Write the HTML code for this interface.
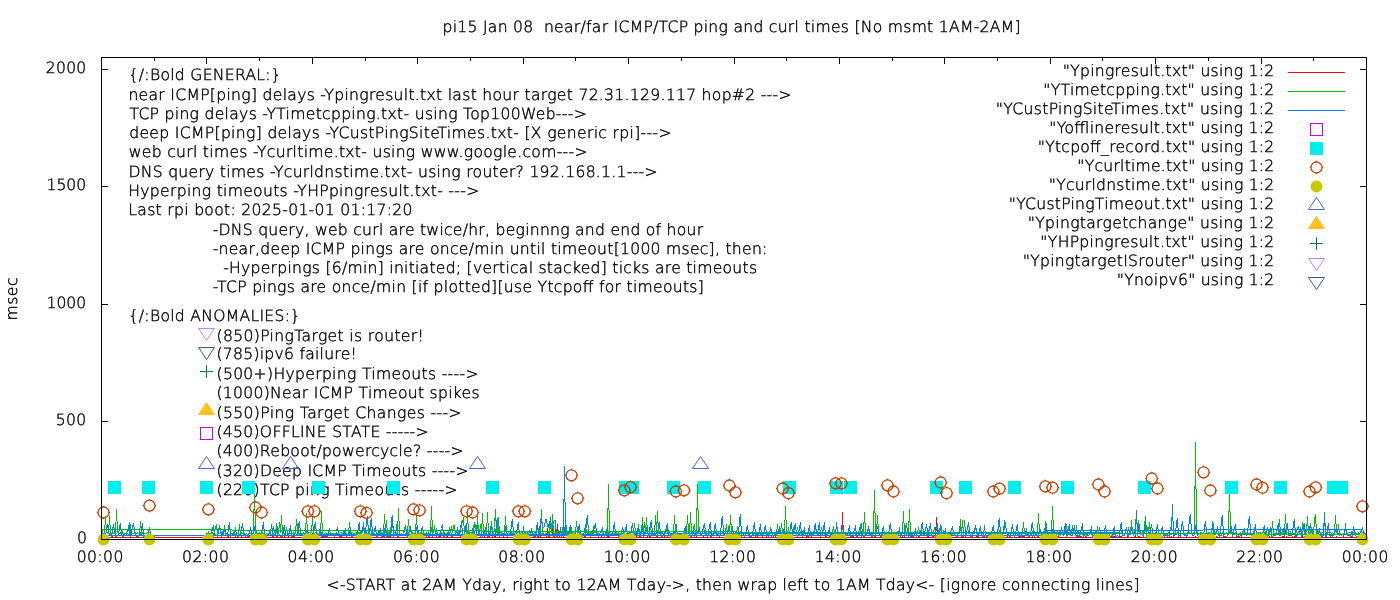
<!DOCTYPE html>
<html lang="en"><head><meta charset="utf-8"><title>pi15 Jan 08 near/far ICMP/TCP ping and curl times</title>
<style>html,body{margin:0;padding:0;background:#fff}body{width:1400px;height:600px;overflow:hidden}svg{display:block}</style>
</head><body>
<svg width="1400" height="600" viewBox="0 0 1400 600" font-family="'DejaVu Sans','Liberation Sans',sans-serif" font-size="15.6" font-weight="200" fill="#000" stroke="none" shape-rendering="crispEdges" text-rendering="geometricPrecision">
<style>text{stroke:#000;stroke-width:0.4px;white-space:pre}</style>
<text x="128.61" y="79.90" textLength="152.19" lengthAdjust="spacing">{/:Bold GENERAL:}</text>
<text x="128.40" y="99.70" textLength="663.15" lengthAdjust="spacing">near ICMP[ping] delays -Ypingresult.txt last hour target 72.31.129.117 hop#2 ---&gt;</text>
<text x="129.46" y="118.50" textLength="457.30" lengthAdjust="spacing">TCP ping delays -YTimetcpping.txt- using Top100Web---&gt;</text>
<text x="129.16" y="137.60" textLength="542.39" lengthAdjust="spacing">deep ICMP[ping] delays -YCustPingSiteTimes.txt- [X generic rpi]---&gt;</text>
<text x="128.81" y="157.00" textLength="458.74" lengthAdjust="spacing">web curl times -Ycurltime.txt- using www.google.com---&gt;</text>
<text x="128.50" y="176.60" textLength="529.05" lengthAdjust="spacing">DNS query times -Ycurldnstime.txt- using router? 192.168.1.1---&gt;</text>
<text x="128.30" y="195.70" textLength="350.95" lengthAdjust="spacing">Hyperping timeouts -YHPpingresult.txt- ---&gt;</text>
<text x="128.30" y="214.75" textLength="284.15" lengthAdjust="spacing">Last rpi boot: 2025-01-01 01:17:20</text>
<text x="212.64" y="235.00" textLength="490.48" lengthAdjust="spacing">-DNS query, web curl are twice/hr, beginnng and end of hour</text>
<text x="212.64" y="253.75" textLength="554.70" lengthAdjust="spacing">-near,deep ICMP pings are once/min until timeout[1000 msec], then:</text>
<text x="212.72" y="272.75" textLength="544.30" lengthAdjust="spacing">  -Hyperpings [6/min] initiated; [vertical stacked] ticks are timeouts</text>
<text x="212.64" y="291.70" textLength="491.18" lengthAdjust="spacing">-TCP pings are once/min [if plotted][use Ytcpoff for timeouts]</text>
<text x="128.61" y="321.00" textLength="171.49" lengthAdjust="spacing">{/:Bold ANOMALIES:}</text>
<text x="216.49" y="340.50" textLength="207.36" lengthAdjust="spacing">(850)PingTarget is router!</text>
<text x="216.49" y="359.40" textLength="140.36" lengthAdjust="spacing">(785)ipv6 failure!</text>
<text x="216.49" y="378.50" textLength="262.06" lengthAdjust="spacing">(500+)Hyperping Timeouts ----&gt;</text>
<text x="216.49" y="397.50" textLength="263.13" lengthAdjust="spacing">(1000)Near ICMP Timeout spikes</text>
<text x="216.49" y="418.00" textLength="245.16" lengthAdjust="spacing">(550)Ping Target Changes ---&gt;</text>
<text x="216.49" y="436.90" textLength="212.06" lengthAdjust="spacing">(450)OFFLINE STATE -----&gt;</text>
<text x="216.49" y="455.90" textLength="247.06" lengthAdjust="spacing">(400)Reboot/powercycle? ----&gt;</text>
<text x="216.49" y="475.70" textLength="252.06" lengthAdjust="spacing">(320)Deep ICMP Timeouts ----&gt;</text>
<text x="216.49" y="494.70" textLength="241.06" lengthAdjust="spacing">(220)TCP ping Timeouts -----&gt;</text>
<path d="M101.5 539.5h6.5M1366.5 539.5h-6.5M101.5 421.5h6.5M1366.5 421.5h-6.5M101.5 304.5h6.5M1366.5 304.5h-6.5M101.5 186.5h6.5M1366.5 186.5h-6.5M101.5 69.5h6.5M1366.5 69.5h-6.5M101.5 539.5v-6.5M101.5 57.5v6.5M154.5 539.5v-3.5M154.5 57.5v3.5M206.5 539.5v-6.5M206.5 57.5v6.5M259.5 539.5v-3.5M259.5 57.5v3.5M312.5 539.5v-6.5M312.5 57.5v6.5M365.5 539.5v-3.5M365.5 57.5v3.5M417.5 539.5v-6.5M417.5 57.5v6.5M470.5 539.5v-3.5M470.5 57.5v3.5M523.5 539.5v-6.5M523.5 57.5v6.5M575.5 539.5v-3.5M575.5 57.5v3.5M628.5 539.5v-6.5M628.5 57.5v6.5M681.5 539.5v-3.5M681.5 57.5v3.5M734.5 539.5v-6.5M734.5 57.5v6.5M786.5 539.5v-3.5M786.5 57.5v3.5M839.5 539.5v-6.5M839.5 57.5v6.5M892.5 539.5v-3.5M892.5 57.5v3.5M944.5 539.5v-6.5M944.5 57.5v6.5M997.5 539.5v-3.5M997.5 57.5v3.5M1050.5 539.5v-6.5M1050.5 57.5v6.5M1102.5 539.5v-3.5M1102.5 57.5v3.5M1155.5 539.5v-6.5M1155.5 57.5v6.5M1208.5 539.5v-3.5M1208.5 57.5v3.5M1261.5 539.5v-6.5M1261.5 57.5v6.5M1313.5 539.5v-3.5M1313.5 57.5v3.5M1366.5 539.5v-6.5M1366.5 57.5v6.5" fill="none" stroke="#000" stroke-width="1"/>
<polyline points="207.5,537.5 208.5,537.5 209.5,537.5 210.5,537.5 211.5,536.5 212.5,537.5 213.5,536.5 214.5,537.5 215.5,537.5 216.5,537.5 217.5,537.5 218.5,537.5 219.5,537.5 220.5,537.5 221.5,536.5 222.5,537.5 223.5,537.5 224.5,537.5 225.5,537.5 226.5,537.5 227.5,537.5 228.5,536.5 229.5,537.5 230.5,537.5 231.5,537.5 232.5,537.5 233.5,537.5 234.5,537.5 235.5,536.5 236.5,537.5 237.5,537.5 238.5,537.5 239.5,537.5 240.5,537.5 241.5,536.5 242.5,537.5 243.5,537.5 244.5,537.5 245.5,536.5 246.5,537.5 247.5,537.5 248.5,536.5 249.5,536.5 250.5,537.5 251.5,537.5 252.5,537.5 253.5,537.5 254.5,537.5 255.5,537.5 256.5,536.5 257.5,536.5 258.5,537.5 259.5,537.5 260.5,537.5 261.5,536.5 262.5,536.5 263.5,536.5 264.5,537.5 265.5,537.5 266.5,536.5 267.5,537.5 268.5,537.5 269.5,537.5 270.5,537.5 271.5,537.5 272.5,536.5 273.5,536.5 274.5,537.5 275.5,537.5 276.5,536.5 277.5,537.5 278.5,537.5 279.5,537.5 280.5,537.5 281.5,537.5 282.5,537.5 283.5,537.5 284.5,536.5 285.5,537.5 286.5,537.5 287.5,537.5 288.5,536.5 289.5,537.5 290.5,537.5 291.5,537.5 292.5,537.5 293.5,536.5 294.5,537.5 295.5,537.5 296.5,537.5 297.5,537.5 298.5,537.5 299.5,537.5 300.5,537.5 301.5,537.5 302.5,537.5 303.5,536.5 304.5,536.5 305.5,537.5 306.5,537.5 307.5,536.5 308.5,537.5 309.5,537.5 310.5,537.5 311.5,537.5 312.5,536.5 313.5,537.5 314.5,537.5 315.5,537.5 316.5,537.5 317.5,537.5 318.5,537.5 319.5,537.5 320.5,537.5 321.5,537.5 322.5,536.5 323.5,537.5 324.5,537.5 325.5,537.5 326.5,536.5 327.5,537.5 328.5,537.5 329.5,537.5 330.5,537.5 331.5,537.5 332.5,537.5 333.5,537.5 334.5,537.5 335.5,537.5 336.5,537.5 337.5,537.5 338.5,537.5 339.5,537.5 340.5,536.5 341.5,536.5 342.5,537.5 343.5,537.5 344.5,537.5 345.5,537.5 346.5,537.5 347.5,537.5 348.5,537.5 349.5,537.5 350.5,537.5 351.5,537.5 352.5,537.5 353.5,537.5 354.5,537.5 355.5,537.5 356.5,537.5 357.5,537.5 358.5,537.5 359.5,537.5 360.5,537.5 361.5,537.5 362.5,537.5 363.5,537.5 364.5,537.5 365.5,537.5 366.5,537.5 367.5,537.5 368.5,537.5 369.5,537.5 370.5,537.5 371.5,537.5 372.5,537.5 373.5,537.5 374.5,537.5 375.5,537.5 376.5,537.5 377.5,537.5 378.5,537.5 379.5,537.5 380.5,537.5 381.5,537.5 382.5,536.5 383.5,537.5 384.5,536.5 385.5,537.5 386.5,537.5 387.5,531.5 388.5,537.5 389.5,537.5 390.5,536.5 391.5,537.5 392.5,537.5 393.5,537.5 394.5,537.5 395.5,537.5 396.5,537.5 397.5,537.5 398.5,537.5 399.5,537.5 400.5,537.5 401.5,537.5 402.5,537.5 403.5,537.5 404.5,537.5 405.5,537.5 406.5,537.5 407.5,537.5 408.5,537.5 409.5,537.5 410.5,537.5 411.5,537.5 412.5,536.5 413.5,537.5 414.5,537.5 415.5,537.5 416.5,536.5 417.5,536.5 418.5,537.5 419.5,537.5 420.5,537.5 421.5,537.5 422.5,536.5 423.5,537.5 424.5,537.5 425.5,537.5 426.5,537.5 427.5,537.5 428.5,537.5 429.5,537.5 430.5,537.5 431.5,537.5 432.5,537.5 433.5,537.5 434.5,537.5 435.5,537.5 436.5,536.5 437.5,537.5 438.5,537.5 439.5,537.5 440.5,536.5 441.5,537.5 442.5,537.5 443.5,537.5 444.5,536.5 445.5,537.5 446.5,537.5 447.5,536.5 448.5,537.5 449.5,537.5 450.5,537.5 451.5,536.5 452.5,537.5 453.5,537.5 454.5,537.5 455.5,537.5 456.5,537.5 457.5,537.5 458.5,537.5 459.5,537.5 460.5,536.5 461.5,537.5 462.5,537.5 463.5,537.5 464.5,536.5 465.5,536.5 466.5,537.5 467.5,536.5 468.5,537.5 469.5,537.5 470.5,536.5 471.5,537.5 472.5,536.5 473.5,537.5 474.5,537.5 475.5,537.5 476.5,537.5 477.5,537.5 478.5,537.5 479.5,537.5 480.5,537.5 481.5,537.5 482.5,537.5 483.5,537.5 484.5,536.5 485.5,537.5 486.5,537.5 487.5,537.5 488.5,537.5 489.5,536.5 490.5,537.5 491.5,537.5 492.5,536.5 493.5,537.5 494.5,536.5 495.5,536.5 496.5,537.5 497.5,537.5 498.5,537.5 499.5,536.5 500.5,537.5 501.5,537.5 502.5,537.5 503.5,536.5 504.5,537.5 505.5,537.5 506.5,537.5 507.5,536.5 508.5,537.5 509.5,537.5 510.5,537.5 511.5,537.5 512.5,537.5 513.5,537.5 514.5,537.5 515.5,537.5 516.5,537.5 517.5,537.5 518.5,537.5 519.5,537.5 520.5,537.5 521.5,536.5 522.5,537.5 523.5,537.5 524.5,537.5 525.5,537.5 526.5,537.5 527.5,536.5 528.5,537.5 529.5,537.5 530.5,537.5 531.5,537.5 532.5,537.5 533.5,537.5 534.5,537.5 535.5,537.5 536.5,537.5 537.5,536.5 538.5,537.5 539.5,526.5 540.5,537.5 541.5,537.5 542.5,537.5 543.5,537.5 544.5,537.5 545.5,537.5 546.5,537.5 547.5,528.5 548.5,536.5 549.5,537.5 550.5,521.5 551.5,525.5 552.5,529.5 553.5,537.5 554.5,537.5 555.5,528.5 556.5,537.5 557.5,524.5 558.5,534.5 559.5,537.5 560.5,528.5 561.5,537.5 562.5,537.5 563.5,537.5 564.5,527.5 565.5,526.5 566.5,529.5 567.5,537.5 568.5,537.5 569.5,527.5 570.5,535.5 571.5,529.5 572.5,537.5 573.5,537.5 574.5,537.5 575.5,537.5 576.5,537.5 577.5,537.5 578.5,537.5 579.5,537.5 580.5,537.5 581.5,537.5 582.5,536.5 583.5,537.5 584.5,536.5 585.5,537.5 586.5,537.5 587.5,537.5 588.5,537.5 589.5,537.5 590.5,537.5 591.5,537.5 592.5,537.5 593.5,537.5 594.5,537.5 595.5,537.5 596.5,537.5 597.5,537.5 598.5,537.5 599.5,537.5 600.5,537.5 601.5,536.5 602.5,537.5 603.5,537.5 604.5,537.5 605.5,537.5 606.5,537.5 607.5,536.5 608.5,536.5 609.5,537.5 610.5,537.5 611.5,537.5 612.5,537.5 613.5,537.5 614.5,537.5 615.5,537.5 616.5,537.5 617.5,537.5 618.5,537.5 619.5,537.5 620.5,537.5 621.5,537.5 622.5,537.5 623.5,537.5 624.5,537.5 625.5,537.5 626.5,537.5 627.5,537.5 628.5,536.5 629.5,537.5 630.5,537.5 631.5,537.5 632.5,537.5 633.5,537.5 634.5,537.5 635.5,537.5 636.5,536.5 637.5,537.5 638.5,537.5 639.5,536.5 640.5,536.5 641.5,537.5 642.5,537.5 643.5,537.5 644.5,537.5 645.5,537.5 646.5,537.5 647.5,536.5 648.5,537.5 649.5,536.5 650.5,536.5 651.5,537.5 652.5,537.5 653.5,537.5 654.5,537.5 655.5,537.5 656.5,537.5 657.5,536.5 658.5,537.5 659.5,537.5 660.5,537.5 661.5,537.5 662.5,537.5 663.5,537.5 664.5,536.5 665.5,537.5 666.5,537.5 667.5,536.5 668.5,537.5 669.5,537.5 670.5,536.5 671.5,537.5 672.5,537.5 673.5,537.5 674.5,537.5 675.5,537.5 676.5,537.5 677.5,537.5 678.5,537.5 679.5,537.5 680.5,536.5 681.5,537.5 682.5,537.5 683.5,537.5 684.5,537.5 685.5,537.5 686.5,537.5 687.5,536.5 688.5,536.5 689.5,537.5 690.5,537.5 691.5,537.5 692.5,537.5 693.5,537.5 694.5,537.5 695.5,537.5 696.5,536.5 697.5,537.5 698.5,537.5 699.5,537.5 700.5,537.5 701.5,537.5 702.5,537.5 703.5,536.5 704.5,537.5 705.5,537.5 706.5,537.5 707.5,537.5 708.5,537.5 709.5,537.5 710.5,536.5 711.5,536.5 712.5,537.5 713.5,537.5 714.5,537.5 715.5,537.5 716.5,537.5 717.5,537.5 718.5,537.5 719.5,537.5 720.5,537.5 721.5,537.5 722.5,537.5 723.5,537.5 724.5,537.5 725.5,537.5 726.5,537.5 727.5,537.5 728.5,537.5 729.5,537.5 730.5,536.5 731.5,536.5 732.5,536.5 733.5,536.5 734.5,537.5 735.5,537.5 736.5,537.5 737.5,537.5 738.5,537.5 739.5,537.5 740.5,537.5 741.5,537.5 742.5,537.5 743.5,537.5 744.5,537.5 745.5,537.5 746.5,537.5 747.5,537.5 748.5,537.5 749.5,536.5 750.5,537.5 751.5,537.5 752.5,537.5 753.5,537.5 754.5,537.5 755.5,536.5 756.5,537.5 757.5,536.5 758.5,537.5 759.5,537.5 760.5,537.5 761.5,537.5 762.5,536.5 763.5,537.5 764.5,537.5 765.5,537.5 766.5,536.5 767.5,537.5 768.5,537.5 769.5,537.5 770.5,537.5 771.5,536.5 772.5,537.5 773.5,536.5 774.5,537.5 775.5,536.5 776.5,537.5 777.5,537.5 778.5,537.5 779.5,537.5 780.5,537.5 781.5,537.5 782.5,537.5 783.5,537.5 784.5,537.5 785.5,537.5 786.5,536.5 787.5,537.5 788.5,537.5 789.5,537.5 790.5,537.5 791.5,536.5 792.5,537.5 793.5,537.5 794.5,537.5 795.5,537.5 796.5,537.5 797.5,537.5 798.5,537.5 799.5,537.5 800.5,537.5 801.5,537.5 802.5,536.5 803.5,537.5 804.5,537.5 805.5,537.5 806.5,536.5 807.5,537.5 808.5,536.5 809.5,537.5 810.5,537.5 811.5,536.5 812.5,537.5 813.5,537.5 814.5,537.5 815.5,537.5 816.5,537.5 817.5,537.5 818.5,537.5 819.5,537.5 820.5,537.5 821.5,537.5 822.5,537.5 823.5,537.5 824.5,537.5 825.5,536.5 826.5,537.5 827.5,537.5 828.5,537.5 829.5,536.5 830.5,537.5 831.5,537.5 832.5,537.5 833.5,537.5 834.5,536.5 835.5,537.5 836.5,537.5 837.5,537.5 838.5,536.5 839.5,536.5 840.5,537.5 841.5,537.5 842.5,512.5 843.5,537.5 844.5,537.5 845.5,537.5 846.5,537.5 847.5,537.5 848.5,537.5 849.5,537.5 850.5,536.5 851.5,537.5 852.5,536.5 853.5,536.5 854.5,537.5 855.5,537.5 856.5,537.5 857.5,537.5 858.5,537.5 859.5,537.5 860.5,537.5 861.5,536.5 862.5,537.5 863.5,537.5 864.5,537.5 865.5,537.5 866.5,537.5 867.5,537.5 868.5,537.5 869.5,537.5 870.5,537.5 871.5,537.5 872.5,537.5 873.5,537.5 874.5,537.5 875.5,537.5 876.5,537.5 877.5,537.5 878.5,537.5 879.5,537.5 880.5,536.5 881.5,537.5 882.5,537.5 883.5,537.5 884.5,537.5 885.5,537.5 886.5,537.5 887.5,537.5 888.5,536.5 889.5,537.5 890.5,536.5 891.5,537.5 892.5,537.5 893.5,537.5 894.5,537.5 895.5,537.5 896.5,537.5 897.5,537.5 898.5,537.5 899.5,537.5 900.5,537.5 901.5,533.5 902.5,537.5 903.5,537.5 904.5,537.5 905.5,537.5 906.5,537.5 907.5,537.5 908.5,537.5 909.5,537.5 910.5,537.5 911.5,536.5 912.5,537.5 913.5,536.5 914.5,537.5 915.5,537.5 916.5,537.5 917.5,537.5 918.5,536.5 919.5,537.5 920.5,537.5 921.5,537.5 922.5,537.5 923.5,537.5 924.5,537.5 925.5,537.5 926.5,537.5 927.5,536.5 928.5,536.5 929.5,537.5 930.5,537.5 931.5,537.5 932.5,536.5 933.5,536.5 934.5,537.5 935.5,537.5 936.5,517.5 937.5,537.5 938.5,537.5 939.5,536.5 940.5,536.5 941.5,537.5 942.5,537.5 943.5,537.5 944.5,537.5 945.5,537.5 946.5,537.5 947.5,536.5 948.5,537.5 949.5,537.5 950.5,537.5 951.5,537.5 952.5,537.5 953.5,537.5 954.5,537.5 955.5,537.5 956.5,537.5 957.5,537.5 958.5,537.5 959.5,537.5 960.5,537.5 961.5,536.5 962.5,537.5 963.5,537.5 964.5,537.5 965.5,536.5 966.5,537.5 967.5,537.5 968.5,537.5 969.5,537.5 970.5,537.5 971.5,537.5 972.5,537.5 973.5,537.5 974.5,537.5 975.5,537.5 976.5,536.5 977.5,536.5 978.5,537.5 979.5,537.5 980.5,537.5 981.5,537.5 982.5,537.5 983.5,537.5 984.5,536.5 985.5,537.5 986.5,537.5 987.5,537.5 988.5,537.5 989.5,537.5 990.5,537.5 991.5,537.5 992.5,537.5 993.5,536.5 994.5,536.5 995.5,537.5 996.5,536.5 997.5,537.5 998.5,537.5 999.5,537.5 1000.5,537.5 1001.5,537.5 1002.5,537.5 1003.5,537.5 1004.5,537.5 1005.5,537.5 1006.5,537.5 1007.5,536.5 1008.5,537.5 1009.5,537.5 1010.5,537.5 1011.5,537.5 1012.5,537.5 1013.5,537.5 1014.5,536.5 1015.5,537.5 1016.5,537.5 1017.5,537.5 1018.5,537.5 1019.5,536.5 1020.5,537.5 1021.5,537.5 1022.5,536.5 1023.5,536.5 1024.5,537.5 1025.5,537.5 1026.5,537.5 1027.5,537.5 1028.5,537.5 1029.5,537.5 1030.5,537.5 1031.5,537.5 1032.5,536.5 1033.5,537.5 1034.5,537.5 1035.5,537.5 1036.5,537.5 1037.5,537.5 1038.5,537.5 1039.5,537.5 1040.5,537.5 1041.5,536.5 1042.5,537.5 1043.5,537.5 1044.5,537.5 1045.5,537.5 1046.5,537.5 1047.5,536.5 1048.5,537.5 1049.5,537.5 1050.5,537.5 1051.5,537.5 1052.5,537.5 1053.5,537.5 1054.5,536.5 1055.5,537.5 1056.5,537.5 1057.5,537.5 1058.5,536.5 1059.5,537.5 1060.5,537.5 1061.5,537.5 1062.5,537.5 1063.5,537.5 1064.5,537.5 1065.5,537.5 1066.5,537.5 1067.5,537.5 1068.5,537.5 1069.5,537.5 1070.5,537.5 1071.5,537.5 1072.5,537.5 1073.5,537.5 1074.5,537.5 1075.5,537.5 1076.5,537.5 1077.5,536.5 1078.5,537.5 1079.5,537.5 1080.5,536.5 1081.5,536.5 1082.5,537.5 1083.5,537.5 1084.5,537.5 1085.5,537.5 1086.5,537.5 1087.5,537.5 1088.5,537.5 1089.5,537.5 1090.5,537.5 1091.5,537.5 1092.5,537.5 1093.5,537.5 1094.5,537.5 1095.5,537.5 1096.5,537.5 1097.5,537.5 1098.5,537.5 1099.5,537.5 1100.5,536.5 1101.5,537.5 1102.5,537.5 1103.5,537.5 1104.5,537.5 1105.5,537.5 1106.5,537.5 1107.5,537.5 1108.5,536.5 1109.5,537.5 1110.5,537.5 1111.5,536.5 1112.5,536.5 1113.5,536.5 1114.5,536.5 1115.5,537.5 1116.5,537.5 1117.5,537.5 1118.5,537.5 1119.5,537.5 1120.5,536.5 1121.5,536.5 1122.5,537.5 1123.5,537.5 1124.5,537.5 1125.5,537.5 1126.5,537.5 1127.5,536.5 1128.5,537.5 1129.5,537.5 1130.5,537.5 1131.5,537.5 1132.5,537.5 1133.5,537.5 1134.5,537.5 1135.5,536.5 1136.5,537.5 1137.5,537.5 1138.5,536.5 1139.5,536.5 1140.5,537.5 1141.5,537.5 1142.5,537.5 1143.5,537.5 1144.5,537.5 1145.5,537.5 1146.5,537.5 1147.5,537.5 1148.5,537.5 1149.5,536.5 1150.5,536.5 1151.5,537.5 1152.5,537.5 1153.5,537.5 1154.5,537.5 1155.5,537.5 1156.5,536.5 1157.5,537.5 1158.5,537.5 1159.5,536.5 1160.5,537.5 1161.5,537.5 1162.5,536.5 1163.5,537.5 1164.5,537.5 1165.5,537.5 1166.5,537.5 1167.5,537.5 1168.5,537.5 1169.5,536.5 1170.5,537.5 1171.5,536.5 1172.5,537.5 1173.5,536.5 1174.5,537.5 1175.5,537.5 1176.5,537.5 1177.5,537.5 1178.5,537.5 1179.5,537.5 1180.5,537.5 1181.5,537.5 1182.5,537.5 1183.5,537.5 1184.5,537.5 1185.5,537.5 1186.5,537.5 1187.5,537.5 1188.5,537.5 1189.5,537.5 1190.5,537.5 1191.5,537.5 1192.5,537.5 1193.5,537.5 1194.5,537.5 1195.5,536.5 1196.5,537.5 1197.5,537.5 1198.5,537.5 1199.5,537.5 1200.5,537.5 1201.5,537.5 1202.5,537.5 1203.5,536.5 1204.5,537.5 1205.5,536.5 1206.5,536.5 1207.5,537.5 1208.5,537.5 1209.5,537.5 1210.5,536.5 1211.5,536.5 1212.5,537.5 1213.5,537.5 1214.5,537.5 1215.5,537.5 1216.5,536.5 1217.5,537.5 1218.5,537.5 1219.5,537.5 1220.5,537.5 1221.5,537.5 1222.5,537.5 1223.5,537.5 1224.5,537.5 1225.5,537.5 1226.5,537.5 1227.5,537.5 1228.5,537.5 1229.5,537.5 1230.5,537.5 1231.5,537.5 1232.5,536.5 1233.5,537.5 1234.5,537.5 1235.5,537.5 1236.5,537.5 1237.5,537.5 1238.5,536.5 1239.5,537.5 1240.5,537.5 1241.5,536.5 1242.5,537.5 1243.5,537.5 1244.5,537.5 1245.5,537.5 1246.5,537.5 1247.5,537.5 1248.5,537.5 1249.5,537.5 1250.5,537.5 1251.5,537.5 1252.5,537.5 1253.5,537.5 1254.5,537.5 1255.5,537.5 1256.5,537.5 1257.5,537.5 1258.5,537.5 1259.5,537.5 1260.5,537.5 1261.5,536.5 1262.5,537.5 1263.5,537.5 1264.5,537.5 1265.5,537.5 1266.5,537.5 1267.5,536.5 1268.5,537.5 1269.5,536.5 1270.5,537.5 1271.5,537.5 1272.5,537.5 1273.5,537.5 1274.5,537.5 1275.5,537.5 1276.5,537.5 1277.5,537.5 1278.5,537.5 1279.5,537.5 1280.5,537.5 1281.5,537.5 1282.5,536.5 1283.5,536.5 1284.5,536.5 1285.5,537.5 1286.5,536.5 1287.5,537.5 1288.5,537.5 1289.5,537.5 1290.5,537.5 1291.5,537.5 1292.5,536.5 1293.5,537.5 1294.5,536.5 1295.5,537.5 1296.5,537.5 1297.5,537.5 1298.5,537.5 1299.5,537.5 1300.5,537.5 1301.5,537.5 1302.5,536.5 1303.5,537.5 1304.5,536.5 1305.5,536.5 1306.5,537.5 1307.5,537.5 1308.5,537.5 1309.5,537.5 1310.5,536.5 1311.5,537.5 1312.5,537.5 1313.5,537.5 1314.5,537.5 1315.5,537.5 1316.5,537.5 1317.5,537.5 1318.5,537.5 1319.5,536.5 1320.5,537.5 1321.5,536.5 1322.5,536.5 1323.5,537.5 1324.5,537.5 1325.5,536.5 1326.5,537.5 1327.5,537.5 1328.5,537.5 1329.5,537.5 1330.5,537.5 1331.5,537.5 1332.5,537.5 1333.5,537.5 1334.5,537.5 1335.5,537.5 1336.5,536.5 1337.5,537.5 1338.5,537.5 1339.5,537.5 1340.5,537.5 1341.5,537.5 1342.5,537.5 1343.5,536.5 1344.5,537.5 1345.5,537.5 1346.5,537.5 1347.5,537.5 1348.5,537.5 1349.5,537.5 1350.5,537.5 1351.5,536.5 1352.5,536.5 1353.5,537.5 1354.5,537.5 1355.5,537.5 1356.5,537.5 1357.5,536.5 1358.5,537.5 1359.5,537.5 1360.5,537.5 1361.5,537.5 1362.5,536.5 1363.5,537.5 1364.5,537.5 1365.5,537.5 1362.5,537.5 102.5,537.5 102.5,537.5 103.5,537.5 104.5,537.5 105.5,537.5 106.5,536.5 107.5,537.5 108.5,537.5 109.5,537.5 110.5,537.5 111.5,537.5 112.5,536.5 113.5,537.5 114.5,537.5 115.5,537.5 116.5,537.5 117.5,537.5 118.5,537.5 119.5,537.5 120.5,537.5 121.5,537.5 122.5,536.5 123.5,537.5 124.5,537.5 125.5,537.5 126.5,537.5 127.5,537.5 128.5,537.5 129.5,537.5 130.5,536.5 131.5,537.5 132.5,537.5 133.5,537.5 134.5,537.5 135.5,537.5 136.5,537.5 137.5,537.5 138.5,537.5 139.5,537.5 140.5,537.5 141.5,537.5 142.5,537.5 143.5,537.5 144.5,537.5 145.5,537.5 146.5,537.5 147.5,537.5 148.5,537.5 149.5,537.5 150.5,537.5 150.5,537.5 207.5,537.5" fill="none" stroke="#ff0000" stroke-width="1" stroke-linejoin="miter"/>
<polyline points="207.5,534.5 208.5,532.5 209.5,534.5 210.5,533.5 211.5,533.5 212.5,532.5 213.5,534.5 214.5,533.5 215.5,527.5 216.5,524.5 217.5,533.5 218.5,533.5 219.5,526.5 220.5,533.5 221.5,532.5 222.5,534.5 223.5,534.5 224.5,525.5 225.5,533.5 226.5,533.5 227.5,533.5 228.5,534.5 229.5,534.5 230.5,533.5 231.5,533.5 232.5,533.5 233.5,532.5 234.5,534.5 235.5,534.5 236.5,533.5 237.5,533.5 238.5,534.5 239.5,524.5 240.5,534.5 241.5,532.5 242.5,533.5 243.5,534.5 244.5,533.5 245.5,534.5 246.5,533.5 247.5,534.5 248.5,533.5 249.5,533.5 250.5,533.5 251.5,534.5 252.5,533.5 253.5,533.5 254.5,486.5 255.5,533.5 256.5,534.5 257.5,533.5 258.5,534.5 259.5,532.5 260.5,533.5 261.5,533.5 262.5,532.5 263.5,534.5 264.5,534.5 265.5,534.5 266.5,533.5 267.5,534.5 268.5,534.5 269.5,532.5 270.5,534.5 271.5,534.5 272.5,534.5 273.5,526.5 274.5,532.5 275.5,532.5 276.5,532.5 277.5,526.5 278.5,533.5 279.5,522.5 280.5,532.5 281.5,515.5 282.5,533.5 283.5,532.5 284.5,534.5 285.5,532.5 286.5,527.5 287.5,534.5 288.5,534.5 289.5,533.5 290.5,533.5 291.5,534.5 292.5,533.5 293.5,532.5 294.5,534.5 295.5,532.5 296.5,519.5 297.5,527.5 298.5,532.5 299.5,534.5 300.5,533.5 301.5,533.5 302.5,534.5 303.5,532.5 304.5,533.5 305.5,533.5 306.5,513.5 307.5,533.5 308.5,532.5 309.5,532.5 310.5,533.5 311.5,532.5 312.5,517.5 313.5,534.5 314.5,533.5 315.5,532.5 316.5,532.5 317.5,533.5 318.5,534.5 319.5,534.5 320.5,534.5 321.5,511.5 322.5,533.5 323.5,534.5 324.5,533.5 325.5,532.5 326.5,533.5 327.5,534.5 328.5,532.5 329.5,533.5 330.5,532.5 331.5,534.5 332.5,533.5 333.5,533.5 334.5,534.5 335.5,534.5 336.5,533.5 337.5,534.5 338.5,532.5 339.5,533.5 340.5,532.5 341.5,532.5 342.5,533.5 343.5,534.5 344.5,533.5 345.5,533.5 346.5,533.5 347.5,534.5 348.5,534.5 349.5,522.5 350.5,533.5 351.5,532.5 352.5,532.5 353.5,533.5 354.5,533.5 355.5,532.5 356.5,532.5 357.5,534.5 358.5,532.5 359.5,532.5 360.5,534.5 361.5,532.5 362.5,532.5 363.5,522.5 364.5,532.5 365.5,534.5 366.5,532.5 367.5,534.5 368.5,534.5 369.5,534.5 370.5,526.5 371.5,533.5 372.5,534.5 373.5,532.5 374.5,533.5 375.5,534.5 376.5,533.5 377.5,534.5 378.5,532.5 379.5,534.5 380.5,533.5 381.5,532.5 382.5,533.5 383.5,533.5 384.5,514.5 385.5,532.5 386.5,520.5 387.5,534.5 388.5,532.5 389.5,533.5 390.5,527.5 391.5,532.5 392.5,521.5 393.5,533.5 394.5,532.5 395.5,532.5 396.5,534.5 397.5,533.5 398.5,508.5 399.5,533.5 400.5,534.5 401.5,533.5 402.5,534.5 403.5,534.5 404.5,534.5 405.5,533.5 406.5,534.5 407.5,532.5 408.5,519.5 409.5,532.5 410.5,526.5 411.5,534.5 412.5,532.5 413.5,533.5 414.5,534.5 415.5,533.5 416.5,515.5 417.5,533.5 418.5,533.5 419.5,533.5 420.5,533.5 421.5,532.5 422.5,534.5 423.5,533.5 424.5,533.5 425.5,533.5 426.5,532.5 427.5,534.5 428.5,532.5 429.5,534.5 430.5,533.5 431.5,506.5 432.5,533.5 433.5,532.5 434.5,525.5 435.5,534.5 436.5,533.5 437.5,533.5 438.5,534.5 439.5,533.5 440.5,532.5 441.5,532.5 442.5,534.5 443.5,534.5 444.5,532.5 445.5,533.5 446.5,533.5 447.5,532.5 448.5,534.5 449.5,532.5 450.5,532.5 451.5,526.5 452.5,532.5 453.5,525.5 454.5,525.5 455.5,533.5 456.5,532.5 457.5,532.5 458.5,534.5 459.5,532.5 460.5,532.5 461.5,521.5 462.5,522.5 463.5,517.5 464.5,533.5 465.5,534.5 466.5,534.5 467.5,513.5 468.5,534.5 469.5,532.5 470.5,532.5 471.5,532.5 472.5,533.5 473.5,533.5 474.5,522.5 475.5,525.5 476.5,533.5 477.5,516.5 478.5,533.5 479.5,533.5 480.5,524.5 481.5,533.5 482.5,513.5 483.5,534.5 484.5,532.5 485.5,533.5 486.5,533.5 487.5,512.5 488.5,533.5 489.5,532.5 490.5,533.5 491.5,521.5 492.5,532.5 493.5,534.5 494.5,527.5 495.5,509.5 496.5,532.5 497.5,533.5 498.5,517.5 499.5,533.5 500.5,532.5 501.5,532.5 502.5,534.5 503.5,534.5 504.5,533.5 505.5,516.5 506.5,533.5 507.5,533.5 508.5,532.5 509.5,533.5 510.5,533.5 511.5,532.5 512.5,534.5 513.5,534.5 514.5,533.5 515.5,532.5 516.5,533.5 517.5,532.5 518.5,532.5 519.5,532.5 520.5,533.5 521.5,532.5 522.5,532.5 523.5,534.5 524.5,532.5 525.5,532.5 526.5,534.5 527.5,532.5 528.5,533.5 529.5,532.5 530.5,533.5 531.5,532.5 532.5,532.5 533.5,533.5 534.5,532.5 535.5,533.5 536.5,533.5 537.5,522.5 538.5,533.5 539.5,532.5 540.5,534.5 541.5,509.5 542.5,534.5 543.5,533.5 544.5,534.5 545.5,533.5 546.5,534.5 547.5,534.5 548.5,532.5 549.5,533.5 550.5,517.5 551.5,532.5 552.5,514.5 553.5,534.5 554.5,534.5 555.5,532.5 556.5,534.5 557.5,532.5 558.5,534.5 559.5,533.5 560.5,534.5 561.5,534.5 562.5,534.5 563.5,520.5 564.5,532.5 565.5,534.5 566.5,532.5 567.5,533.5 568.5,534.5 569.5,532.5 570.5,534.5 571.5,527.5 572.5,534.5 573.5,533.5 574.5,532.5 575.5,533.5 576.5,521.5 577.5,532.5 578.5,532.5 579.5,532.5 580.5,534.5 581.5,534.5 582.5,533.5 583.5,533.5 584.5,532.5 585.5,524.5 586.5,532.5 587.5,532.5 588.5,534.5 589.5,534.5 590.5,532.5 591.5,532.5 592.5,534.5 593.5,526.5 594.5,532.5 595.5,532.5 596.5,533.5 597.5,532.5 598.5,534.5 599.5,533.5 600.5,532.5 601.5,532.5 602.5,533.5 603.5,534.5 604.5,534.5 605.5,534.5 606.5,532.5 607.5,533.5 608.5,484.5 609.5,533.5 610.5,532.5 611.5,533.5 612.5,533.5 613.5,534.5 614.5,532.5 615.5,534.5 616.5,532.5 617.5,534.5 618.5,532.5 619.5,533.5 620.5,533.5 621.5,532.5 622.5,534.5 623.5,532.5 624.5,533.5 625.5,534.5 626.5,533.5 627.5,533.5 628.5,534.5 629.5,532.5 630.5,533.5 631.5,532.5 632.5,532.5 633.5,532.5 634.5,523.5 635.5,532.5 636.5,533.5 637.5,534.5 638.5,524.5 639.5,532.5 640.5,532.5 641.5,532.5 642.5,517.5 643.5,533.5 644.5,522.5 645.5,532.5 646.5,517.5 647.5,532.5 648.5,534.5 649.5,534.5 650.5,525.5 651.5,534.5 652.5,534.5 653.5,534.5 654.5,534.5 655.5,515.5 656.5,533.5 657.5,511.5 658.5,533.5 659.5,532.5 660.5,532.5 661.5,532.5 662.5,532.5 663.5,533.5 664.5,532.5 665.5,532.5 666.5,525.5 667.5,532.5 668.5,532.5 669.5,532.5 670.5,533.5 671.5,534.5 672.5,533.5 673.5,533.5 674.5,515.5 675.5,532.5 676.5,534.5 677.5,532.5 678.5,534.5 679.5,534.5 680.5,533.5 681.5,534.5 682.5,533.5 683.5,533.5 684.5,533.5 685.5,532.5 686.5,532.5 687.5,515.5 688.5,532.5 689.5,534.5 690.5,512.5 691.5,533.5 692.5,534.5 693.5,527.5 694.5,525.5 695.5,533.5 696.5,533.5 697.5,484.5 698.5,533.5 699.5,533.5 700.5,534.5 701.5,533.5 702.5,532.5 703.5,526.5 704.5,532.5 705.5,534.5 706.5,532.5 707.5,533.5 708.5,533.5 709.5,532.5 710.5,532.5 711.5,534.5 712.5,534.5 713.5,532.5 714.5,532.5 715.5,532.5 716.5,533.5 717.5,533.5 718.5,532.5 719.5,533.5 720.5,532.5 721.5,533.5 722.5,532.5 723.5,534.5 724.5,533.5 725.5,532.5 726.5,524.5 727.5,534.5 728.5,526.5 729.5,534.5 730.5,515.5 731.5,532.5 732.5,534.5 733.5,534.5 734.5,534.5 735.5,532.5 736.5,534.5 737.5,526.5 738.5,533.5 739.5,534.5 740.5,532.5 741.5,534.5 742.5,532.5 743.5,533.5 744.5,533.5 745.5,533.5 746.5,533.5 747.5,532.5 748.5,533.5 749.5,534.5 750.5,532.5 751.5,532.5 752.5,533.5 753.5,534.5 754.5,532.5 755.5,533.5 756.5,534.5 757.5,534.5 758.5,532.5 759.5,533.5 760.5,534.5 761.5,532.5 762.5,534.5 763.5,534.5 764.5,533.5 765.5,532.5 766.5,533.5 767.5,534.5 768.5,534.5 769.5,532.5 770.5,532.5 771.5,532.5 772.5,532.5 773.5,533.5 774.5,534.5 775.5,534.5 776.5,534.5 777.5,524.5 778.5,532.5 779.5,533.5 780.5,533.5 781.5,523.5 782.5,532.5 783.5,532.5 784.5,533.5 785.5,506.5 786.5,533.5 787.5,534.5 788.5,527.5 789.5,533.5 790.5,532.5 791.5,532.5 792.5,532.5 793.5,527.5 794.5,533.5 795.5,533.5 796.5,533.5 797.5,527.5 798.5,532.5 799.5,534.5 800.5,532.5 801.5,534.5 802.5,532.5 803.5,534.5 804.5,533.5 805.5,534.5 806.5,533.5 807.5,534.5 808.5,533.5 809.5,534.5 810.5,532.5 811.5,533.5 812.5,534.5 813.5,533.5 814.5,532.5 815.5,526.5 816.5,533.5 817.5,534.5 818.5,534.5 819.5,533.5 820.5,533.5 821.5,527.5 822.5,532.5 823.5,532.5 824.5,534.5 825.5,533.5 826.5,534.5 827.5,533.5 828.5,532.5 829.5,532.5 830.5,533.5 831.5,532.5 832.5,532.5 833.5,526.5 834.5,532.5 835.5,533.5 836.5,533.5 837.5,534.5 838.5,533.5 839.5,534.5 840.5,534.5 841.5,532.5 842.5,533.5 843.5,534.5 844.5,533.5 845.5,532.5 846.5,532.5 847.5,532.5 848.5,532.5 849.5,534.5 850.5,533.5 851.5,533.5 852.5,532.5 853.5,532.5 854.5,532.5 855.5,534.5 856.5,533.5 857.5,533.5 858.5,532.5 859.5,534.5 860.5,533.5 861.5,523.5 862.5,534.5 863.5,532.5 864.5,512.5 865.5,532.5 866.5,533.5 867.5,533.5 868.5,526.5 869.5,534.5 870.5,534.5 871.5,534.5 872.5,534.5 873.5,533.5 874.5,490.5 875.5,533.5 876.5,532.5 877.5,515.5 878.5,532.5 879.5,534.5 880.5,533.5 881.5,532.5 882.5,534.5 883.5,532.5 884.5,533.5 885.5,532.5 886.5,534.5 887.5,534.5 888.5,534.5 889.5,532.5 890.5,533.5 891.5,533.5 892.5,534.5 893.5,534.5 894.5,534.5 895.5,533.5 896.5,534.5 897.5,532.5 898.5,534.5 899.5,532.5 900.5,532.5 901.5,533.5 902.5,532.5 903.5,511.5 904.5,534.5 905.5,532.5 906.5,534.5 907.5,533.5 908.5,532.5 909.5,509.5 910.5,534.5 911.5,533.5 912.5,534.5 913.5,533.5 914.5,534.5 915.5,533.5 916.5,533.5 917.5,532.5 918.5,527.5 919.5,532.5 920.5,533.5 921.5,534.5 922.5,524.5 923.5,533.5 924.5,533.5 925.5,532.5 926.5,534.5 927.5,534.5 928.5,534.5 929.5,534.5 930.5,532.5 931.5,533.5 932.5,533.5 933.5,533.5 934.5,527.5 935.5,532.5 936.5,532.5 937.5,532.5 938.5,533.5 939.5,532.5 940.5,524.5 941.5,532.5 942.5,532.5 943.5,532.5 944.5,533.5 945.5,534.5 946.5,534.5 947.5,532.5 948.5,533.5 949.5,533.5 950.5,534.5 951.5,534.5 952.5,534.5 953.5,533.5 954.5,532.5 955.5,533.5 956.5,532.5 957.5,533.5 958.5,532.5 959.5,533.5 960.5,519.5 961.5,533.5 962.5,520.5 963.5,534.5 964.5,520.5 965.5,533.5 966.5,533.5 967.5,526.5 968.5,533.5 969.5,533.5 970.5,534.5 971.5,533.5 972.5,534.5 973.5,532.5 974.5,533.5 975.5,526.5 976.5,533.5 977.5,533.5 978.5,532.5 979.5,533.5 980.5,532.5 981.5,534.5 982.5,533.5 983.5,532.5 984.5,532.5 985.5,533.5 986.5,532.5 987.5,533.5 988.5,534.5 989.5,533.5 990.5,532.5 991.5,534.5 992.5,534.5 993.5,534.5 994.5,532.5 995.5,534.5 996.5,533.5 997.5,533.5 998.5,526.5 999.5,532.5 1000.5,534.5 1001.5,532.5 1002.5,533.5 1003.5,532.5 1004.5,520.5 1005.5,523.5 1006.5,532.5 1007.5,532.5 1008.5,534.5 1009.5,533.5 1010.5,533.5 1011.5,533.5 1012.5,533.5 1013.5,534.5 1014.5,532.5 1015.5,533.5 1016.5,532.5 1017.5,534.5 1018.5,534.5 1019.5,534.5 1020.5,533.5 1021.5,534.5 1022.5,533.5 1023.5,522.5 1024.5,533.5 1025.5,534.5 1026.5,534.5 1027.5,534.5 1028.5,534.5 1029.5,533.5 1030.5,532.5 1031.5,534.5 1032.5,532.5 1033.5,534.5 1034.5,532.5 1035.5,534.5 1036.5,532.5 1037.5,533.5 1038.5,513.5 1039.5,533.5 1040.5,532.5 1041.5,534.5 1042.5,534.5 1043.5,532.5 1044.5,534.5 1045.5,521.5 1046.5,534.5 1047.5,534.5 1048.5,534.5 1049.5,533.5 1050.5,534.5 1051.5,533.5 1052.5,506.5 1053.5,533.5 1054.5,533.5 1055.5,533.5 1056.5,534.5 1057.5,532.5 1058.5,534.5 1059.5,532.5 1060.5,534.5 1061.5,532.5 1062.5,532.5 1063.5,532.5 1064.5,534.5 1065.5,533.5 1066.5,524.5 1067.5,533.5 1068.5,534.5 1069.5,534.5 1070.5,533.5 1071.5,533.5 1072.5,525.5 1073.5,533.5 1074.5,533.5 1075.5,534.5 1076.5,525.5 1077.5,534.5 1078.5,532.5 1079.5,534.5 1080.5,534.5 1081.5,533.5 1082.5,534.5 1083.5,532.5 1084.5,534.5 1085.5,534.5 1086.5,534.5 1087.5,534.5 1088.5,533.5 1089.5,532.5 1090.5,533.5 1091.5,534.5 1092.5,533.5 1093.5,533.5 1094.5,534.5 1095.5,532.5 1096.5,534.5 1097.5,526.5 1098.5,534.5 1099.5,534.5 1100.5,534.5 1101.5,533.5 1102.5,534.5 1103.5,532.5 1104.5,532.5 1105.5,533.5 1106.5,532.5 1107.5,533.5 1108.5,533.5 1109.5,534.5 1110.5,533.5 1111.5,532.5 1112.5,533.5 1113.5,534.5 1114.5,534.5 1115.5,533.5 1116.5,532.5 1117.5,533.5 1118.5,533.5 1119.5,534.5 1120.5,526.5 1121.5,533.5 1122.5,533.5 1123.5,533.5 1124.5,533.5 1125.5,532.5 1126.5,533.5 1127.5,533.5 1128.5,527.5 1129.5,533.5 1130.5,534.5 1131.5,520.5 1132.5,532.5 1133.5,532.5 1134.5,532.5 1135.5,525.5 1136.5,513.5 1137.5,534.5 1138.5,520.5 1139.5,532.5 1140.5,534.5 1141.5,534.5 1142.5,532.5 1143.5,534.5 1144.5,525.5 1145.5,516.5 1146.5,533.5 1147.5,527.5 1148.5,532.5 1149.5,522.5 1150.5,534.5 1151.5,534.5 1152.5,532.5 1153.5,534.5 1154.5,534.5 1155.5,532.5 1156.5,532.5 1157.5,533.5 1158.5,534.5 1159.5,534.5 1160.5,533.5 1161.5,533.5 1162.5,533.5 1163.5,532.5 1164.5,534.5 1165.5,534.5 1166.5,534.5 1167.5,534.5 1168.5,532.5 1169.5,532.5 1170.5,534.5 1171.5,534.5 1172.5,533.5 1173.5,532.5 1174.5,533.5 1175.5,533.5 1176.5,534.5 1177.5,532.5 1178.5,532.5 1179.5,533.5 1180.5,533.5 1181.5,533.5 1182.5,533.5 1183.5,534.5 1184.5,534.5 1185.5,534.5 1186.5,533.5 1187.5,532.5 1188.5,533.5 1189.5,532.5 1190.5,533.5 1191.5,533.5 1192.5,533.5 1193.5,532.5 1194.5,533.5 1195.5,442.5 1196.5,533.5 1197.5,534.5 1198.5,534.5 1199.5,533.5 1200.5,532.5 1201.5,532.5 1202.5,533.5 1203.5,532.5 1204.5,533.5 1205.5,533.5 1206.5,533.5 1207.5,533.5 1208.5,532.5 1209.5,532.5 1210.5,533.5 1211.5,534.5 1212.5,521.5 1213.5,534.5 1214.5,534.5 1215.5,534.5 1216.5,532.5 1217.5,533.5 1218.5,533.5 1219.5,534.5 1220.5,532.5 1221.5,534.5 1222.5,532.5 1223.5,532.5 1224.5,534.5 1225.5,533.5 1226.5,532.5 1227.5,534.5 1228.5,533.5 1229.5,488.5 1230.5,533.5 1231.5,532.5 1232.5,534.5 1233.5,534.5 1234.5,534.5 1235.5,532.5 1236.5,533.5 1237.5,534.5 1238.5,533.5 1239.5,533.5 1240.5,532.5 1241.5,534.5 1242.5,534.5 1243.5,534.5 1244.5,532.5 1245.5,532.5 1246.5,534.5 1247.5,534.5 1248.5,533.5 1249.5,533.5 1250.5,532.5 1251.5,533.5 1252.5,534.5 1253.5,532.5 1254.5,534.5 1255.5,534.5 1256.5,534.5 1257.5,534.5 1258.5,532.5 1259.5,532.5 1260.5,532.5 1261.5,534.5 1262.5,532.5 1263.5,532.5 1264.5,532.5 1265.5,534.5 1266.5,532.5 1267.5,527.5 1268.5,532.5 1269.5,534.5 1270.5,534.5 1271.5,534.5 1272.5,521.5 1273.5,534.5 1274.5,533.5 1275.5,534.5 1276.5,532.5 1277.5,534.5 1278.5,534.5 1279.5,519.5 1280.5,533.5 1281.5,533.5 1282.5,533.5 1283.5,533.5 1284.5,533.5 1285.5,514.5 1286.5,533.5 1287.5,532.5 1288.5,532.5 1289.5,534.5 1290.5,532.5 1291.5,534.5 1292.5,532.5 1293.5,534.5 1294.5,533.5 1295.5,533.5 1296.5,532.5 1297.5,527.5 1298.5,526.5 1299.5,533.5 1300.5,533.5 1301.5,534.5 1302.5,523.5 1303.5,525.5 1304.5,534.5 1305.5,534.5 1306.5,532.5 1307.5,516.5 1308.5,534.5 1309.5,532.5 1310.5,533.5 1311.5,527.5 1312.5,532.5 1313.5,533.5 1314.5,520.5 1315.5,514.5 1316.5,532.5 1317.5,533.5 1318.5,532.5 1319.5,532.5 1320.5,532.5 1321.5,533.5 1322.5,532.5 1323.5,533.5 1324.5,512.5 1325.5,533.5 1326.5,534.5 1327.5,532.5 1328.5,532.5 1329.5,532.5 1330.5,532.5 1331.5,533.5 1332.5,532.5 1333.5,533.5 1334.5,533.5 1335.5,515.5 1336.5,532.5 1337.5,533.5 1338.5,524.5 1339.5,533.5 1340.5,533.5 1341.5,534.5 1342.5,534.5 1343.5,533.5 1344.5,533.5 1345.5,527.5 1346.5,534.5 1347.5,533.5 1348.5,532.5 1349.5,532.5 1350.5,532.5 1351.5,533.5 1352.5,533.5 1353.5,532.5 1354.5,533.5 1355.5,532.5 1356.5,534.5 1357.5,534.5 1358.5,532.5 1359.5,533.5 1360.5,532.5 1361.5,533.5 1362.5,532.5 1363.5,532.5 1364.5,534.5 1365.5,533.5 1362.5,534.5 102.5,529.5 102.5,534.5 103.5,533.5 104.5,534.5 105.5,516.5 106.5,532.5 107.5,532.5 108.5,533.5 109.5,516.5 110.5,533.5 111.5,534.5 112.5,533.5 113.5,533.5 114.5,532.5 115.5,534.5 116.5,509.5 117.5,532.5 118.5,532.5 119.5,533.5 120.5,532.5 121.5,534.5 122.5,532.5 123.5,534.5 124.5,533.5 125.5,533.5 126.5,532.5 127.5,533.5 128.5,534.5 129.5,534.5 130.5,524.5 131.5,533.5 132.5,533.5 133.5,533.5 134.5,532.5 135.5,532.5 136.5,533.5 137.5,532.5 138.5,533.5 139.5,534.5 140.5,521.5 141.5,534.5 142.5,532.5 143.5,532.5 144.5,533.5 145.5,533.5 146.5,533.5 147.5,532.5 148.5,533.5 149.5,532.5 150.5,532.5" fill="none" stroke="#00c000" stroke-width="1" stroke-linejoin="miter"/>
<polyline points="207.5,533.5 208.5,536.5 209.5,536.5 210.5,535.5 211.5,531.5 212.5,529.5 213.5,525.5 214.5,535.5 215.5,534.5 216.5,535.5 217.5,536.5 218.5,531.5 219.5,525.5 220.5,530.5 221.5,535.5 222.5,532.5 223.5,534.5 224.5,528.5 225.5,535.5 226.5,535.5 227.5,536.5 228.5,527.5 229.5,522.5 230.5,536.5 231.5,535.5 232.5,534.5 233.5,535.5 234.5,532.5 235.5,527.5 236.5,535.5 237.5,536.5 238.5,536.5 239.5,535.5 240.5,532.5 241.5,528.5 242.5,523.5 243.5,531.5 244.5,535.5 245.5,535.5 246.5,535.5 247.5,536.5 248.5,536.5 249.5,531.5 250.5,528.5 251.5,532.5 252.5,536.5 253.5,531.5 254.5,527.5 255.5,524.5 256.5,536.5 257.5,536.5 258.5,535.5 259.5,536.5 260.5,536.5 261.5,535.5 262.5,527.5 263.5,522.5 264.5,534.5 265.5,536.5 266.5,535.5 267.5,535.5 268.5,535.5 269.5,532.5 270.5,534.5 271.5,524.5 272.5,530.5 273.5,535.5 274.5,534.5 275.5,535.5 276.5,523.5 277.5,536.5 278.5,535.5 279.5,534.5 280.5,536.5 281.5,536.5 282.5,536.5 283.5,528.5 284.5,525.5 285.5,535.5 286.5,535.5 287.5,534.5 288.5,535.5 289.5,530.5 290.5,525.5 291.5,536.5 292.5,536.5 293.5,534.5 294.5,536.5 295.5,535.5 296.5,534.5 297.5,534.5 298.5,525.5 299.5,521.5 300.5,533.5 301.5,535.5 302.5,535.5 303.5,536.5 304.5,535.5 305.5,532.5 306.5,532.5 307.5,528.5 308.5,535.5 309.5,534.5 310.5,535.5 311.5,536.5 312.5,536.5 313.5,534.5 314.5,525.5 315.5,522.5 316.5,535.5 317.5,535.5 318.5,535.5 319.5,532.5 320.5,526.5 321.5,536.5 322.5,535.5 323.5,536.5 324.5,536.5 325.5,536.5 326.5,534.5 327.5,536.5 328.5,531.5 329.5,528.5 330.5,535.5 331.5,535.5 332.5,535.5 333.5,535.5 334.5,536.5 335.5,534.5 336.5,531.5 337.5,527.5 338.5,532.5 339.5,536.5 340.5,535.5 341.5,535.5 342.5,535.5 343.5,532.5 344.5,534.5 345.5,528.5 346.5,536.5 347.5,535.5 348.5,534.5 349.5,533.5 350.5,527.5 351.5,536.5 352.5,536.5 353.5,534.5 354.5,534.5 355.5,535.5 356.5,535.5 357.5,534.5 358.5,526.5 359.5,522.5 360.5,536.5 361.5,533.5 362.5,529.5 363.5,525.5 364.5,534.5 365.5,535.5 366.5,519.5 367.5,516.5 368.5,533.5 369.5,534.5 370.5,522.5 371.5,518.5 372.5,534.5 373.5,534.5 374.5,530.5 375.5,526.5 376.5,536.5 377.5,536.5 378.5,532.5 379.5,534.5 380.5,528.5 381.5,536.5 382.5,534.5 383.5,536.5 384.5,531.5 385.5,525.5 386.5,536.5 387.5,536.5 388.5,535.5 389.5,536.5 390.5,535.5 391.5,519.5 392.5,515.5 393.5,536.5 394.5,534.5 395.5,535.5 396.5,524.5 397.5,536.5 398.5,536.5 399.5,534.5 400.5,535.5 401.5,534.5 402.5,535.5 403.5,533.5 404.5,529.5 405.5,525.5 406.5,532.5 407.5,536.5 408.5,533.5 409.5,530.5 410.5,527.5 411.5,536.5 412.5,536.5 413.5,536.5 414.5,534.5 415.5,532.5 416.5,528.5 417.5,525.5 418.5,535.5 419.5,536.5 420.5,534.5 421.5,530.5 422.5,526.5 423.5,535.5 424.5,535.5 425.5,535.5 426.5,536.5 427.5,534.5 428.5,536.5 429.5,536.5 430.5,532.5 431.5,527.5 432.5,536.5 433.5,535.5 434.5,534.5 435.5,534.5 436.5,528.5 437.5,535.5 438.5,536.5 439.5,536.5 440.5,531.5 441.5,528.5 442.5,524.5 443.5,536.5 444.5,536.5 445.5,535.5 446.5,536.5 447.5,535.5 448.5,533.5 449.5,528.5 450.5,531.5 451.5,534.5 452.5,536.5 453.5,535.5 454.5,535.5 455.5,533.5 456.5,532.5 457.5,527.5 458.5,533.5 459.5,533.5 460.5,527.5 461.5,522.5 462.5,533.5 463.5,536.5 464.5,536.5 465.5,527.5 466.5,523.5 467.5,536.5 468.5,536.5 469.5,534.5 470.5,536.5 471.5,536.5 472.5,530.5 473.5,525.5 474.5,533.5 475.5,534.5 476.5,535.5 477.5,522.5 478.5,534.5 479.5,535.5 480.5,536.5 481.5,534.5 482.5,536.5 483.5,531.5 484.5,532.5 485.5,527.5 486.5,535.5 487.5,536.5 488.5,536.5 489.5,535.5 490.5,528.5 491.5,524.5 492.5,535.5 493.5,535.5 494.5,535.5 495.5,535.5 496.5,522.5 497.5,518.5 498.5,534.5 499.5,536.5 500.5,535.5 501.5,535.5 502.5,535.5 503.5,534.5 504.5,531.5 505.5,526.5 506.5,535.5 507.5,536.5 508.5,534.5 509.5,535.5 510.5,535.5 511.5,523.5 512.5,519.5 513.5,533.5 514.5,534.5 515.5,534.5 516.5,533.5 517.5,526.5 518.5,522.5 519.5,536.5 520.5,535.5 521.5,534.5 522.5,536.5 523.5,526.5 524.5,535.5 525.5,536.5 526.5,536.5 527.5,535.5 528.5,535.5 529.5,531.5 530.5,533.5 531.5,528.5 532.5,534.5 533.5,536.5 534.5,536.5 535.5,536.5 536.5,527.5 537.5,523.5 538.5,535.5 539.5,535.5 540.5,520.5 541.5,518.5 542.5,526.5 543.5,527.5 544.5,526.5 545.5,519.5 546.5,519.5 547.5,526.5 548.5,527.5 549.5,521.5 550.5,528.5 551.5,523.5 552.5,527.5 553.5,521.5 554.5,520.5 555.5,520.5 556.5,536.5 557.5,536.5 558.5,535.5 559.5,535.5 560.5,527.5 561.5,536.5 562.5,535.5 563.5,534.5 564.5,466.5 565.5,534.5 566.5,525.5 567.5,536.5 568.5,533.5 569.5,531.5 570.5,525.5 571.5,536.5 572.5,536.5 573.5,534.5 574.5,535.5 575.5,535.5 576.5,536.5 577.5,534.5 578.5,528.5 579.5,524.5 580.5,534.5 581.5,535.5 582.5,534.5 583.5,534.5 584.5,534.5 585.5,536.5 586.5,520.5 587.5,515.5 588.5,533.5 589.5,535.5 590.5,536.5 591.5,535.5 592.5,534.5 593.5,532.5 594.5,526.5 595.5,523.5 596.5,532.5 597.5,535.5 598.5,536.5 599.5,534.5 600.5,531.5 601.5,531.5 602.5,527.5 603.5,534.5 604.5,536.5 605.5,531.5 606.5,530.5 607.5,527.5 608.5,534.5 609.5,536.5 610.5,534.5 611.5,534.5 612.5,534.5 613.5,527.5 614.5,522.5 615.5,535.5 616.5,535.5 617.5,534.5 618.5,536.5 619.5,536.5 620.5,536.5 621.5,532.5 622.5,527.5 623.5,531.5 624.5,533.5 625.5,530.5 626.5,524.5 627.5,536.5 628.5,536.5 629.5,534.5 630.5,532.5 631.5,529.5 632.5,523.5 633.5,531.5 634.5,534.5 635.5,535.5 636.5,533.5 637.5,529.5 638.5,526.5 639.5,535.5 640.5,535.5 641.5,529.5 642.5,525.5 643.5,535.5 644.5,533.5 645.5,531.5 646.5,528.5 647.5,532.5 648.5,534.5 649.5,531.5 650.5,523.5 651.5,520.5 652.5,534.5 653.5,535.5 654.5,534.5 655.5,534.5 656.5,536.5 657.5,535.5 658.5,525.5 659.5,522.5 660.5,535.5 661.5,536.5 662.5,536.5 663.5,534.5 664.5,534.5 665.5,533.5 666.5,528.5 667.5,523.5 668.5,534.5 669.5,535.5 670.5,534.5 671.5,535.5 672.5,534.5 673.5,534.5 674.5,534.5 675.5,527.5 676.5,524.5 677.5,536.5 678.5,535.5 679.5,536.5 680.5,534.5 681.5,536.5 682.5,535.5 683.5,534.5 684.5,530.5 685.5,526.5 686.5,535.5 687.5,535.5 688.5,535.5 689.5,535.5 690.5,536.5 691.5,536.5 692.5,535.5 693.5,528.5 694.5,536.5 695.5,534.5 696.5,535.5 697.5,532.5 698.5,530.5 699.5,527.5 700.5,535.5 701.5,535.5 702.5,531.5 703.5,527.5 704.5,523.5 705.5,532.5 706.5,534.5 707.5,536.5 708.5,533.5 709.5,525.5 710.5,522.5 711.5,536.5 712.5,535.5 713.5,535.5 714.5,526.5 715.5,523.5 716.5,534.5 717.5,534.5 718.5,534.5 719.5,536.5 720.5,535.5 721.5,520.5 722.5,516.5 723.5,533.5 724.5,535.5 725.5,535.5 726.5,534.5 727.5,531.5 728.5,528.5 729.5,534.5 730.5,535.5 731.5,532.5 732.5,526.5 733.5,535.5 734.5,535.5 735.5,536.5 736.5,536.5 737.5,536.5 738.5,534.5 739.5,520.5 740.5,514.5 741.5,536.5 742.5,535.5 743.5,534.5 744.5,536.5 745.5,535.5 746.5,528.5 747.5,525.5 748.5,533.5 749.5,536.5 750.5,536.5 751.5,536.5 752.5,534.5 753.5,527.5 754.5,522.5 755.5,534.5 756.5,535.5 757.5,535.5 758.5,534.5 759.5,530.5 760.5,524.5 761.5,535.5 762.5,536.5 763.5,534.5 764.5,529.5 765.5,525.5 766.5,534.5 767.5,534.5 768.5,536.5 769.5,533.5 770.5,528.5 771.5,530.5 772.5,535.5 773.5,536.5 774.5,535.5 775.5,536.5 776.5,534.5 777.5,531.5 778.5,532.5 779.5,526.5 780.5,536.5 781.5,535.5 782.5,535.5 783.5,530.5 784.5,527.5 785.5,536.5 786.5,536.5 787.5,535.5 788.5,535.5 789.5,536.5 790.5,525.5 791.5,522.5 792.5,535.5 793.5,531.5 794.5,527.5 795.5,523.5 796.5,535.5 797.5,536.5 798.5,534.5 799.5,528.5 800.5,522.5 801.5,535.5 802.5,536.5 803.5,532.5 804.5,527.5 805.5,535.5 806.5,535.5 807.5,536.5 808.5,530.5 809.5,525.5 810.5,535.5 811.5,534.5 812.5,535.5 813.5,535.5 814.5,527.5 815.5,523.5 816.5,533.5 817.5,534.5 818.5,527.5 819.5,522.5 820.5,536.5 821.5,535.5 822.5,535.5 823.5,527.5 824.5,522.5 825.5,536.5 826.5,536.5 827.5,534.5 828.5,532.5 829.5,527.5 830.5,536.5 831.5,534.5 832.5,534.5 833.5,535.5 834.5,534.5 835.5,535.5 836.5,522.5 837.5,530.5 838.5,535.5 839.5,536.5 840.5,534.5 841.5,536.5 842.5,524.5 843.5,533.5 844.5,536.5 845.5,534.5 846.5,534.5 847.5,534.5 848.5,531.5 849.5,525.5 850.5,536.5 851.5,536.5 852.5,536.5 853.5,531.5 854.5,530.5 855.5,525.5 856.5,536.5 857.5,536.5 858.5,533.5 859.5,529.5 860.5,524.5 861.5,536.5 862.5,534.5 863.5,536.5 864.5,536.5 865.5,535.5 866.5,533.5 867.5,531.5 868.5,527.5 869.5,530.5 870.5,535.5 871.5,536.5 872.5,536.5 873.5,535.5 874.5,536.5 875.5,536.5 876.5,530.5 877.5,527.5 878.5,530.5 879.5,535.5 880.5,535.5 881.5,536.5 882.5,529.5 883.5,526.5 884.5,535.5 885.5,535.5 886.5,534.5 887.5,535.5 888.5,536.5 889.5,526.5 890.5,523.5 891.5,533.5 892.5,535.5 893.5,535.5 894.5,534.5 895.5,536.5 896.5,536.5 897.5,535.5 898.5,535.5 899.5,527.5 900.5,536.5 901.5,534.5 902.5,535.5 903.5,535.5 904.5,536.5 905.5,526.5 906.5,523.5 907.5,531.5 908.5,536.5 909.5,534.5 910.5,536.5 911.5,534.5 912.5,536.5 913.5,536.5 914.5,533.5 915.5,528.5 916.5,536.5 917.5,535.5 918.5,535.5 919.5,536.5 920.5,533.5 921.5,526.5 922.5,522.5 923.5,534.5 924.5,534.5 925.5,528.5 926.5,525.5 927.5,530.5 928.5,532.5 929.5,528.5 930.5,523.5 931.5,533.5 932.5,536.5 933.5,535.5 934.5,535.5 935.5,535.5 936.5,527.5 937.5,523.5 938.5,535.5 939.5,531.5 940.5,530.5 941.5,526.5 942.5,536.5 943.5,531.5 944.5,534.5 945.5,528.5 946.5,535.5 947.5,535.5 948.5,535.5 949.5,534.5 950.5,533.5 951.5,529.5 952.5,526.5 953.5,532.5 954.5,534.5 955.5,535.5 956.5,536.5 957.5,536.5 958.5,532.5 959.5,531.5 960.5,525.5 961.5,536.5 962.5,536.5 963.5,536.5 964.5,535.5 965.5,535.5 966.5,533.5 967.5,527.5 968.5,522.5 969.5,530.5 970.5,536.5 971.5,536.5 972.5,536.5 973.5,531.5 974.5,531.5 975.5,525.5 976.5,530.5 977.5,534.5 978.5,536.5 979.5,530.5 980.5,526.5 981.5,535.5 982.5,536.5 983.5,536.5 984.5,525.5 985.5,535.5 986.5,536.5 987.5,536.5 988.5,535.5 989.5,534.5 990.5,535.5 991.5,533.5 992.5,528.5 993.5,525.5 994.5,536.5 995.5,536.5 996.5,536.5 997.5,535.5 998.5,522.5 999.5,518.5 1000.5,535.5 1001.5,534.5 1002.5,535.5 1003.5,531.5 1004.5,527.5 1005.5,522.5 1006.5,532.5 1007.5,535.5 1008.5,535.5 1009.5,536.5 1010.5,536.5 1011.5,529.5 1012.5,524.5 1013.5,533.5 1014.5,536.5 1015.5,534.5 1016.5,528.5 1017.5,524.5 1018.5,536.5 1019.5,534.5 1020.5,536.5 1021.5,536.5 1022.5,536.5 1023.5,535.5 1024.5,536.5 1025.5,534.5 1026.5,528.5 1027.5,535.5 1028.5,536.5 1029.5,536.5 1030.5,535.5 1031.5,526.5 1032.5,522.5 1033.5,533.5 1034.5,536.5 1035.5,535.5 1036.5,534.5 1037.5,536.5 1038.5,536.5 1039.5,527.5 1040.5,530.5 1041.5,534.5 1042.5,534.5 1043.5,535.5 1044.5,535.5 1045.5,529.5 1046.5,523.5 1047.5,536.5 1048.5,535.5 1049.5,535.5 1050.5,534.5 1051.5,535.5 1052.5,530.5 1053.5,527.5 1054.5,534.5 1055.5,536.5 1056.5,535.5 1057.5,536.5 1058.5,535.5 1059.5,534.5 1060.5,532.5 1061.5,527.5 1062.5,534.5 1063.5,535.5 1064.5,528.5 1065.5,523.5 1066.5,536.5 1067.5,535.5 1068.5,527.5 1069.5,524.5 1070.5,535.5 1071.5,535.5 1072.5,535.5 1073.5,531.5 1074.5,525.5 1075.5,535.5 1076.5,536.5 1077.5,534.5 1078.5,536.5 1079.5,536.5 1080.5,533.5 1081.5,528.5 1082.5,523.5 1083.5,536.5 1084.5,535.5 1085.5,536.5 1086.5,536.5 1087.5,534.5 1088.5,535.5 1089.5,534.5 1090.5,532.5 1091.5,526.5 1092.5,536.5 1093.5,535.5 1094.5,536.5 1095.5,535.5 1096.5,536.5 1097.5,534.5 1098.5,535.5 1099.5,527.5 1100.5,532.5 1101.5,535.5 1102.5,535.5 1103.5,536.5 1104.5,529.5 1105.5,526.5 1106.5,531.5 1107.5,535.5 1108.5,536.5 1109.5,535.5 1110.5,536.5 1111.5,535.5 1112.5,536.5 1113.5,530.5 1114.5,526.5 1115.5,536.5 1116.5,536.5 1117.5,535.5 1118.5,536.5 1119.5,536.5 1120.5,525.5 1121.5,522.5 1122.5,535.5 1123.5,535.5 1124.5,535.5 1125.5,531.5 1126.5,527.5 1127.5,534.5 1128.5,536.5 1129.5,532.5 1130.5,533.5 1131.5,528.5 1132.5,531.5 1133.5,535.5 1134.5,536.5 1135.5,535.5 1136.5,510.5 1137.5,535.5 1138.5,528.5 1139.5,524.5 1140.5,534.5 1141.5,534.5 1142.5,535.5 1143.5,536.5 1144.5,529.5 1145.5,524.5 1146.5,536.5 1147.5,535.5 1148.5,536.5 1149.5,534.5 1150.5,529.5 1151.5,524.5 1152.5,531.5 1153.5,536.5 1154.5,536.5 1155.5,536.5 1156.5,529.5 1157.5,524.5 1158.5,533.5 1159.5,535.5 1160.5,536.5 1161.5,529.5 1162.5,526.5 1163.5,535.5 1164.5,536.5 1165.5,534.5 1166.5,534.5 1167.5,536.5 1168.5,535.5 1169.5,535.5 1170.5,527.5 1171.5,530.5 1172.5,504.5 1173.5,536.5 1174.5,535.5 1175.5,533.5 1176.5,522.5 1177.5,518.5 1178.5,536.5 1179.5,535.5 1180.5,536.5 1181.5,526.5 1182.5,521.5 1183.5,530.5 1184.5,535.5 1185.5,534.5 1186.5,536.5 1187.5,534.5 1188.5,531.5 1189.5,517.5 1190.5,514.5 1191.5,532.5 1192.5,535.5 1193.5,535.5 1194.5,534.5 1195.5,526.5 1196.5,523.5 1197.5,535.5 1198.5,536.5 1199.5,536.5 1200.5,534.5 1201.5,534.5 1202.5,535.5 1203.5,536.5 1204.5,527.5 1205.5,521.5 1206.5,532.5 1207.5,534.5 1208.5,534.5 1209.5,536.5 1210.5,535.5 1211.5,534.5 1212.5,526.5 1213.5,523.5 1214.5,533.5 1215.5,532.5 1216.5,531.5 1217.5,526.5 1218.5,534.5 1219.5,536.5 1220.5,534.5 1221.5,518.5 1222.5,515.5 1223.5,536.5 1224.5,536.5 1225.5,536.5 1226.5,536.5 1227.5,535.5 1228.5,534.5 1229.5,532.5 1230.5,530.5 1231.5,526.5 1232.5,536.5 1233.5,532.5 1234.5,527.5 1235.5,524.5 1236.5,536.5 1237.5,536.5 1238.5,535.5 1239.5,536.5 1240.5,535.5 1241.5,536.5 1242.5,531.5 1243.5,531.5 1244.5,528.5 1245.5,534.5 1246.5,535.5 1247.5,534.5 1248.5,521.5 1249.5,516.5 1250.5,531.5 1251.5,535.5 1252.5,536.5 1253.5,536.5 1254.5,529.5 1255.5,524.5 1256.5,536.5 1257.5,536.5 1258.5,534.5 1259.5,535.5 1260.5,536.5 1261.5,535.5 1262.5,534.5 1263.5,529.5 1264.5,525.5 1265.5,536.5 1266.5,536.5 1267.5,536.5 1268.5,534.5 1269.5,532.5 1270.5,527.5 1271.5,536.5 1272.5,536.5 1273.5,535.5 1274.5,535.5 1275.5,535.5 1276.5,533.5 1277.5,526.5 1278.5,523.5 1279.5,535.5 1280.5,535.5 1281.5,532.5 1282.5,531.5 1283.5,528.5 1284.5,536.5 1285.5,531.5 1286.5,528.5 1287.5,523.5 1288.5,535.5 1289.5,535.5 1290.5,535.5 1291.5,535.5 1292.5,532.5 1293.5,523.5 1294.5,519.5 1295.5,536.5 1296.5,536.5 1297.5,534.5 1298.5,531.5 1299.5,530.5 1300.5,527.5 1301.5,536.5 1302.5,534.5 1303.5,527.5 1304.5,523.5 1305.5,534.5 1306.5,535.5 1307.5,536.5 1308.5,534.5 1309.5,528.5 1310.5,523.5 1311.5,531.5 1312.5,534.5 1313.5,535.5 1314.5,536.5 1315.5,536.5 1316.5,535.5 1317.5,531.5 1318.5,534.5 1319.5,528.5 1320.5,535.5 1321.5,534.5 1322.5,536.5 1323.5,535.5 1324.5,514.5 1325.5,536.5 1326.5,536.5 1327.5,528.5 1328.5,523.5 1329.5,535.5 1330.5,536.5 1331.5,534.5 1332.5,536.5 1333.5,534.5 1334.5,532.5 1335.5,531.5 1336.5,528.5 1337.5,532.5 1338.5,534.5 1339.5,535.5 1340.5,534.5 1341.5,535.5 1342.5,534.5 1343.5,535.5 1344.5,534.5 1345.5,523.5 1346.5,533.5 1347.5,535.5 1348.5,535.5 1349.5,535.5 1350.5,536.5 1351.5,531.5 1352.5,536.5 1353.5,526.5 1354.5,533.5 1355.5,535.5 1356.5,536.5 1357.5,536.5 1358.5,536.5 1359.5,535.5 1360.5,531.5 1361.5,531.5 1362.5,528.5 1363.5,531.5 1364.5,534.5 1365.5,534.5 1362.5,529.5 1046.5,530.5 1046.5,535.5 102.5,535.5 102.5,536.5 103.5,534.5 104.5,536.5 105.5,536.5 106.5,529.5 107.5,524.5 108.5,530.5 109.5,535.5 110.5,534.5 111.5,536.5 112.5,529.5 113.5,524.5 114.5,530.5 115.5,536.5 116.5,536.5 117.5,535.5 118.5,534.5 119.5,527.5 120.5,523.5 121.5,534.5 122.5,536.5 123.5,536.5 124.5,534.5 125.5,535.5 126.5,534.5 127.5,532.5 128.5,528.5 129.5,522.5 130.5,535.5 131.5,533.5 132.5,527.5 133.5,523.5 134.5,530.5 135.5,535.5 136.5,536.5 137.5,536.5 138.5,536.5 139.5,534.5 140.5,535.5 141.5,529.5 142.5,523.5 143.5,536.5 144.5,536.5 145.5,535.5 146.5,535.5 147.5,536.5 148.5,533.5 149.5,527.5 150.5,534.5 150.5,535.5 207.5,535.5" fill="none" stroke="#0080ff" stroke-width="1" stroke-linejoin="miter"/>
<polyline points="1120.5,532.5 150.5,535.5" fill="none" stroke="#0080ff" stroke-width="1" stroke-linejoin="miter"/>
<rect x="108.0" y="481.0" width="13" height="13" fill="#00eeee"/>
<rect x="142.0" y="481.0" width="13" height="13" fill="#00eeee"/>
<rect x="200.0" y="481.0" width="13" height="13" fill="#00eeee"/>
<rect x="242.1" y="481.0" width="13" height="13" fill="#00eeee"/>
<rect x="312.1" y="481.0" width="13" height="13" fill="#00eeee"/>
<rect x="387.1" y="481.0" width="13" height="13" fill="#00eeee"/>
<rect x="486.0" y="481.0" width="13" height="13" fill="#00eeee"/>
<rect x="538.0" y="481.0" width="13" height="13" fill="#00eeee"/>
<rect x="619.0" y="481.0" width="13" height="13" fill="#00eeee"/>
<rect x="626.0" y="481.0" width="13" height="13" fill="#00eeee"/>
<rect x="667.1" y="481.0" width="13" height="13" fill="#00eeee"/>
<rect x="698.0" y="481.0" width="13" height="13" fill="#00eeee"/>
<rect x="782.9" y="481.0" width="13" height="13" fill="#00eeee"/>
<rect x="829.9" y="481.0" width="13" height="13" fill="#00eeee"/>
<rect x="844.0" y="481.0" width="13" height="13" fill="#00eeee"/>
<rect x="930.0" y="481.0" width="13" height="13" fill="#00eeee"/>
<rect x="959.0" y="481.0" width="13" height="13" fill="#00eeee"/>
<rect x="1008.0" y="481.0" width="13" height="13" fill="#00eeee"/>
<rect x="1061.0" y="481.0" width="13" height="13" fill="#00eeee"/>
<rect x="1138.0" y="481.0" width="13" height="13" fill="#00eeee"/>
<rect x="1225.0" y="481.0" width="13" height="13" fill="#00eeee"/>
<rect x="1274.0" y="481.0" width="13" height="13" fill="#00eeee"/>
<rect x="1327.0" y="481.0" width="13" height="13" fill="#00eeee"/>
<rect x="1335.0" y="481.0" width="13" height="13" fill="#00eeee"/>
<circle cx="103.5" cy="512.5" r="5.5" fill="none" stroke="#c04000" stroke-width="1.3" shape-rendering="geometricPrecision"/><path d="M96.8 512.5h1.2M109.0 512.5h1.2M103.5 505.8v1.2M103.5 518.0v1.2" stroke="#c04000" stroke-width="1.2" fill="none" shape-rendering="geometricPrecision"/>
<circle cx="149.5" cy="505.6" r="5.5" fill="none" stroke="#c04000" stroke-width="1.3" shape-rendering="geometricPrecision"/><path d="M142.8 505.6h1.2M155.0 505.6h1.2M149.5 498.90000000000003v1.2M149.5 511.1v1.2" stroke="#c04000" stroke-width="1.2" fill="none" shape-rendering="geometricPrecision"/>
<circle cx="208.4" cy="509.4" r="5.5" fill="none" stroke="#c04000" stroke-width="1.3" shape-rendering="geometricPrecision"/><path d="M201.70000000000002 509.4h1.2M213.9 509.4h1.2M208.4 502.7v1.2M208.4 514.9v1.2" stroke="#c04000" stroke-width="1.2" fill="none" shape-rendering="geometricPrecision"/>
<circle cx="255.4" cy="507.5" r="5.5" fill="none" stroke="#c04000" stroke-width="1.3" shape-rendering="geometricPrecision"/><path d="M248.70000000000002 507.5h1.2M260.9 507.5h1.2M255.4 500.8v1.2M255.4 513.0v1.2" stroke="#c04000" stroke-width="1.2" fill="none" shape-rendering="geometricPrecision"/>
<circle cx="261.6" cy="512.5" r="5.5" fill="none" stroke="#c04000" stroke-width="1.3" shape-rendering="geometricPrecision"/><path d="M254.90000000000003 512.5h1.2M267.1 512.5h1.2M261.6 505.8v1.2M261.6 518.0v1.2" stroke="#c04000" stroke-width="1.2" fill="none" shape-rendering="geometricPrecision"/>
<circle cx="307.9" cy="511.3" r="5.5" fill="none" stroke="#c04000" stroke-width="1.3" shape-rendering="geometricPrecision"/><path d="M301.2 511.3h1.2M313.4 511.3h1.2M307.9 504.6v1.2M307.9 516.8v1.2" stroke="#c04000" stroke-width="1.2" fill="none" shape-rendering="geometricPrecision"/>
<circle cx="314.4" cy="511.3" r="5.5" fill="none" stroke="#c04000" stroke-width="1.3" shape-rendering="geometricPrecision"/><path d="M307.7 511.3h1.2M319.9 511.3h1.2M314.4 504.6v1.2M314.4 516.8v1.2" stroke="#c04000" stroke-width="1.2" fill="none" shape-rendering="geometricPrecision"/>
<circle cx="360.4" cy="511.3" r="5.5" fill="none" stroke="#c04000" stroke-width="1.3" shape-rendering="geometricPrecision"/><path d="M353.7 511.3h1.2M365.9 511.3h1.2M360.4 504.6v1.2M360.4 516.8v1.2" stroke="#c04000" stroke-width="1.2" fill="none" shape-rendering="geometricPrecision"/>
<circle cx="366.6" cy="512.9" r="5.5" fill="none" stroke="#c04000" stroke-width="1.3" shape-rendering="geometricPrecision"/><path d="M359.90000000000003 512.9h1.2M372.1 512.9h1.2M366.6 506.2v1.2M366.6 518.4v1.2" stroke="#c04000" stroke-width="1.2" fill="none" shape-rendering="geometricPrecision"/>
<circle cx="413.5" cy="509.4" r="5.5" fill="none" stroke="#c04000" stroke-width="1.3" shape-rendering="geometricPrecision"/><path d="M406.8 509.4h1.2M419.0 509.4h1.2M413.5 502.7v1.2M413.5 514.9v1.2" stroke="#c04000" stroke-width="1.2" fill="none" shape-rendering="geometricPrecision"/>
<circle cx="419.6" cy="510.3" r="5.5" fill="none" stroke="#c04000" stroke-width="1.3" shape-rendering="geometricPrecision"/><path d="M412.90000000000003 510.3h1.2M425.1 510.3h1.2M419.6 503.6v1.2M419.6 515.8v1.2" stroke="#c04000" stroke-width="1.2" fill="none" shape-rendering="geometricPrecision"/>
<circle cx="466.6" cy="511.3" r="5.5" fill="none" stroke="#c04000" stroke-width="1.3" shape-rendering="geometricPrecision"/><path d="M459.90000000000003 511.3h1.2M472.1 511.3h1.2M466.6 504.6v1.2M466.6 516.8v1.2" stroke="#c04000" stroke-width="1.2" fill="none" shape-rendering="geometricPrecision"/>
<circle cx="472.5" cy="512.5" r="5.5" fill="none" stroke="#c04000" stroke-width="1.3" shape-rendering="geometricPrecision"/><path d="M465.8 512.5h1.2M478.0 512.5h1.2M472.5 505.8v1.2M472.5 518.0v1.2" stroke="#c04000" stroke-width="1.2" fill="none" shape-rendering="geometricPrecision"/>
<circle cx="518.5" cy="511.3" r="5.5" fill="none" stroke="#c04000" stroke-width="1.3" shape-rendering="geometricPrecision"/><path d="M511.8 511.3h1.2M524.0 511.3h1.2M518.5 504.6v1.2M518.5 516.8v1.2" stroke="#c04000" stroke-width="1.2" fill="none" shape-rendering="geometricPrecision"/>
<circle cx="524.8" cy="511.3" r="5.5" fill="none" stroke="#c04000" stroke-width="1.3" shape-rendering="geometricPrecision"/><path d="M518.0999999999999 511.3h1.2M530.3 511.3h1.2M524.8 504.6v1.2M524.8 516.8v1.2" stroke="#c04000" stroke-width="1.2" fill="none" shape-rendering="geometricPrecision"/>
<circle cx="571.5" cy="475.3" r="5.5" fill="none" stroke="#c04000" stroke-width="1.3" shape-rendering="geometricPrecision"/><path d="M564.8 475.3h1.2M577.0 475.3h1.2M571.5 468.6v1.2M571.5 480.8v1.2" stroke="#c04000" stroke-width="1.2" fill="none" shape-rendering="geometricPrecision"/>
<circle cx="577.6" cy="498.3" r="5.5" fill="none" stroke="#c04000" stroke-width="1.3" shape-rendering="geometricPrecision"/><path d="M570.9 498.3h1.2M583.1 498.3h1.2M577.6 491.6v1.2M577.6 503.8v1.2" stroke="#c04000" stroke-width="1.2" fill="none" shape-rendering="geometricPrecision"/>
<circle cx="624.3" cy="490.4" r="5.5" fill="none" stroke="#c04000" stroke-width="1.3" shape-rendering="geometricPrecision"/><path d="M617.5999999999999 490.4h1.2M629.8 490.4h1.2M624.3 483.7v1.2M624.3 495.9v1.2" stroke="#c04000" stroke-width="1.2" fill="none" shape-rendering="geometricPrecision"/>
<circle cx="630.6" cy="487.2" r="5.5" fill="none" stroke="#c04000" stroke-width="1.3" shape-rendering="geometricPrecision"/><path d="M623.9 487.2h1.2M636.1 487.2h1.2M630.6 480.5v1.2M630.6 492.7v1.2" stroke="#c04000" stroke-width="1.2" fill="none" shape-rendering="geometricPrecision"/>
<circle cx="675.9" cy="491.5" r="5.5" fill="none" stroke="#c04000" stroke-width="1.3" shape-rendering="geometricPrecision"/><path d="M669.1999999999999 491.5h1.2M681.4 491.5h1.2M675.9 484.8v1.2M675.9 497.0v1.2" stroke="#c04000" stroke-width="1.2" fill="none" shape-rendering="geometricPrecision"/>
<circle cx="684" cy="490.4" r="5.5" fill="none" stroke="#c04000" stroke-width="1.3" shape-rendering="geometricPrecision"/><path d="M677.3 490.4h1.2M689.5 490.4h1.2M684 483.7v1.2M684 495.9v1.2" stroke="#c04000" stroke-width="1.2" fill="none" shape-rendering="geometricPrecision"/>
<circle cx="729.4" cy="485.5" r="5.5" fill="none" stroke="#c04000" stroke-width="1.3" shape-rendering="geometricPrecision"/><path d="M722.6999999999999 485.5h1.2M734.9 485.5h1.2M729.4 478.8v1.2M729.4 491.0v1.2" stroke="#c04000" stroke-width="1.2" fill="none" shape-rendering="geometricPrecision"/>
<circle cx="735.5" cy="492.4" r="5.5" fill="none" stroke="#c04000" stroke-width="1.3" shape-rendering="geometricPrecision"/><path d="M728.8 492.4h1.2M741.0 492.4h1.2M735.5 485.7v1.2M735.5 497.9v1.2" stroke="#c04000" stroke-width="1.2" fill="none" shape-rendering="geometricPrecision"/>
<circle cx="782.7" cy="488.5" r="5.5" fill="none" stroke="#c04000" stroke-width="1.3" shape-rendering="geometricPrecision"/><path d="M776.0 488.5h1.2M788.2 488.5h1.2M782.7 481.8v1.2M782.7 494.0v1.2" stroke="#c04000" stroke-width="1.2" fill="none" shape-rendering="geometricPrecision"/>
<circle cx="788.5" cy="493.2" r="5.5" fill="none" stroke="#c04000" stroke-width="1.3" shape-rendering="geometricPrecision"/><path d="M781.8 493.2h1.2M794.0 493.2h1.2M788.5 486.5v1.2M788.5 498.7v1.2" stroke="#c04000" stroke-width="1.2" fill="none" shape-rendering="geometricPrecision"/>
<circle cx="835.5" cy="483.4" r="5.5" fill="none" stroke="#c04000" stroke-width="1.3" shape-rendering="geometricPrecision"/><path d="M828.8 483.4h1.2M841.0 483.4h1.2M835.5 476.7v1.2M835.5 488.9v1.2" stroke="#c04000" stroke-width="1.2" fill="none" shape-rendering="geometricPrecision"/>
<circle cx="841.4" cy="483.4" r="5.5" fill="none" stroke="#c04000" stroke-width="1.3" shape-rendering="geometricPrecision"/><path d="M834.6999999999999 483.4h1.2M846.9 483.4h1.2M841.4 476.7v1.2M841.4 488.9v1.2" stroke="#c04000" stroke-width="1.2" fill="none" shape-rendering="geometricPrecision"/>
<circle cx="887.5" cy="485.3" r="5.5" fill="none" stroke="#c04000" stroke-width="1.3" shape-rendering="geometricPrecision"/><path d="M880.8 485.3h1.2M893.0 485.3h1.2M887.5 478.6v1.2M887.5 490.8v1.2" stroke="#c04000" stroke-width="1.2" fill="none" shape-rendering="geometricPrecision"/>
<circle cx="893.5" cy="491.5" r="5.5" fill="none" stroke="#c04000" stroke-width="1.3" shape-rendering="geometricPrecision"/><path d="M886.8 491.5h1.2M899.0 491.5h1.2M893.5 484.8v1.2M893.5 497.0v1.2" stroke="#c04000" stroke-width="1.2" fill="none" shape-rendering="geometricPrecision"/>
<circle cx="940.7" cy="482.5" r="5.5" fill="none" stroke="#c04000" stroke-width="1.3" shape-rendering="geometricPrecision"/><path d="M934.0 482.5h1.2M946.2 482.5h1.2M940.7 475.8v1.2M940.7 488.0v1.2" stroke="#c04000" stroke-width="1.2" fill="none" shape-rendering="geometricPrecision"/>
<circle cx="946.6" cy="493.2" r="5.5" fill="none" stroke="#c04000" stroke-width="1.3" shape-rendering="geometricPrecision"/><path d="M939.9 493.2h1.2M952.1 493.2h1.2M946.6 486.5v1.2M946.6 498.7v1.2" stroke="#c04000" stroke-width="1.2" fill="none" shape-rendering="geometricPrecision"/>
<circle cx="993.4" cy="491.5" r="5.5" fill="none" stroke="#c04000" stroke-width="1.3" shape-rendering="geometricPrecision"/><path d="M986.6999999999999 491.5h1.2M998.9 491.5h1.2M993.4 484.8v1.2M993.4 497.0v1.2" stroke="#c04000" stroke-width="1.2" fill="none" shape-rendering="geometricPrecision"/>
<circle cx="999.6" cy="488.6" r="5.5" fill="none" stroke="#c04000" stroke-width="1.3" shape-rendering="geometricPrecision"/><path d="M992.9 488.6h1.2M1005.1 488.6h1.2M999.6 481.90000000000003v1.2M999.6 494.1v1.2" stroke="#c04000" stroke-width="1.2" fill="none" shape-rendering="geometricPrecision"/>
<circle cx="1045.4" cy="486.4" r="5.5" fill="none" stroke="#c04000" stroke-width="1.3" shape-rendering="geometricPrecision"/><path d="M1038.7 486.4h1.2M1050.9 486.4h1.2M1045.4 479.7v1.2M1045.4 491.9v1.2" stroke="#c04000" stroke-width="1.2" fill="none" shape-rendering="geometricPrecision"/>
<circle cx="1052.5" cy="487.7" r="5.5" fill="none" stroke="#c04000" stroke-width="1.3" shape-rendering="geometricPrecision"/><path d="M1045.8 487.7h1.2M1058.0 487.7h1.2M1052.5 481.0v1.2M1052.5 493.2v1.2" stroke="#c04000" stroke-width="1.2" fill="none" shape-rendering="geometricPrecision"/>
<circle cx="1098.4" cy="484.5" r="5.5" fill="none" stroke="#c04000" stroke-width="1.3" shape-rendering="geometricPrecision"/><path d="M1091.7 484.5h1.2M1103.9 484.5h1.2M1098.4 477.8v1.2M1098.4 490.0v1.2" stroke="#c04000" stroke-width="1.2" fill="none" shape-rendering="geometricPrecision"/>
<circle cx="1104.6" cy="491.5" r="5.5" fill="none" stroke="#c04000" stroke-width="1.3" shape-rendering="geometricPrecision"/><path d="M1097.8999999999999 491.5h1.2M1110.1 491.5h1.2M1104.6 484.8v1.2M1104.6 497.0v1.2" stroke="#c04000" stroke-width="1.2" fill="none" shape-rendering="geometricPrecision"/>
<circle cx="1151.8" cy="478.5" r="5.5" fill="none" stroke="#c04000" stroke-width="1.3" shape-rendering="geometricPrecision"/><path d="M1145.1 478.5h1.2M1157.3 478.5h1.2M1151.8 471.8v1.2M1151.8 484.0v1.2" stroke="#c04000" stroke-width="1.2" fill="none" shape-rendering="geometricPrecision"/>
<circle cx="1157.5" cy="488.5" r="5.5" fill="none" stroke="#c04000" stroke-width="1.3" shape-rendering="geometricPrecision"/><path d="M1150.8 488.5h1.2M1163.0 488.5h1.2M1157.5 481.8v1.2M1157.5 494.0v1.2" stroke="#c04000" stroke-width="1.2" fill="none" shape-rendering="geometricPrecision"/>
<circle cx="1203.6" cy="472.3" r="5.5" fill="none" stroke="#c04000" stroke-width="1.3" shape-rendering="geometricPrecision"/><path d="M1196.8999999999999 472.3h1.2M1209.1 472.3h1.2M1203.6 465.6v1.2M1203.6 477.8v1.2" stroke="#c04000" stroke-width="1.2" fill="none" shape-rendering="geometricPrecision"/>
<circle cx="1210.4" cy="490.5" r="5.5" fill="none" stroke="#c04000" stroke-width="1.3" shape-rendering="geometricPrecision"/><path d="M1203.7 490.5h1.2M1215.9 490.5h1.2M1210.4 483.8v1.2M1210.4 496.0v1.2" stroke="#c04000" stroke-width="1.2" fill="none" shape-rendering="geometricPrecision"/>
<circle cx="1256.5" cy="484.5" r="5.5" fill="none" stroke="#c04000" stroke-width="1.3" shape-rendering="geometricPrecision"/><path d="M1249.8 484.5h1.2M1262.0 484.5h1.2M1256.5 477.8v1.2M1256.5 490.0v1.2" stroke="#c04000" stroke-width="1.2" fill="none" shape-rendering="geometricPrecision"/>
<circle cx="1262.5" cy="487.7" r="5.5" fill="none" stroke="#c04000" stroke-width="1.3" shape-rendering="geometricPrecision"/><path d="M1255.8 487.7h1.2M1268.0 487.7h1.2M1262.5 481.0v1.2M1262.5 493.2v1.2" stroke="#c04000" stroke-width="1.2" fill="none" shape-rendering="geometricPrecision"/>
<circle cx="1309.5" cy="491.5" r="5.5" fill="none" stroke="#c04000" stroke-width="1.3" shape-rendering="geometricPrecision"/><path d="M1302.8 491.5h1.2M1315.0 491.5h1.2M1309.5 484.8v1.2M1309.5 497.0v1.2" stroke="#c04000" stroke-width="1.2" fill="none" shape-rendering="geometricPrecision"/>
<circle cx="1315.7" cy="487.4" r="5.5" fill="none" stroke="#c04000" stroke-width="1.3" shape-rendering="geometricPrecision"/><path d="M1309.0 487.4h1.2M1321.2 487.4h1.2M1315.7 480.7v1.2M1315.7 492.9v1.2" stroke="#c04000" stroke-width="1.2" fill="none" shape-rendering="geometricPrecision"/>
<circle cx="1362.5" cy="506.3" r="5.5" fill="none" stroke="#c04000" stroke-width="1.3" shape-rendering="geometricPrecision"/><path d="M1355.8 506.3h1.2M1368.0 506.3h1.2M1362.5 499.6v1.2M1362.5 511.8v1.2" stroke="#c04000" stroke-width="1.2" fill="none" shape-rendering="geometricPrecision"/>
<circle cx="103.5" cy="539.5" r="5.9" fill="#c8c800" shape-rendering="geometricPrecision"/>
<circle cx="149.5" cy="539.5" r="5.9" fill="#c8c800" shape-rendering="geometricPrecision"/>
<circle cx="208.4" cy="539.5" r="5.9" fill="#c8c800" shape-rendering="geometricPrecision"/>
<circle cx="255.4" cy="539.5" r="5.9" fill="#c8c800" shape-rendering="geometricPrecision"/>
<circle cx="261.6" cy="539.5" r="5.9" fill="#c8c800" shape-rendering="geometricPrecision"/>
<circle cx="307.9" cy="539.5" r="5.9" fill="#c8c800" shape-rendering="geometricPrecision"/>
<circle cx="314.4" cy="539.5" r="5.9" fill="#c8c800" shape-rendering="geometricPrecision"/>
<circle cx="360.4" cy="539.5" r="5.9" fill="#c8c800" shape-rendering="geometricPrecision"/>
<circle cx="366.6" cy="539.5" r="5.9" fill="#c8c800" shape-rendering="geometricPrecision"/>
<circle cx="413.5" cy="539.5" r="5.9" fill="#c8c800" shape-rendering="geometricPrecision"/>
<circle cx="419.6" cy="539.5" r="5.9" fill="#c8c800" shape-rendering="geometricPrecision"/>
<circle cx="466.6" cy="539.5" r="5.9" fill="#c8c800" shape-rendering="geometricPrecision"/>
<circle cx="472.5" cy="539.5" r="5.9" fill="#c8c800" shape-rendering="geometricPrecision"/>
<circle cx="518.5" cy="539.5" r="5.9" fill="#c8c800" shape-rendering="geometricPrecision"/>
<circle cx="524.8" cy="539.5" r="5.9" fill="#c8c800" shape-rendering="geometricPrecision"/>
<circle cx="571.5" cy="539.5" r="5.9" fill="#c8c800" shape-rendering="geometricPrecision"/>
<circle cx="577.6" cy="539.5" r="5.9" fill="#c8c800" shape-rendering="geometricPrecision"/>
<circle cx="624.3" cy="539.5" r="5.9" fill="#c8c800" shape-rendering="geometricPrecision"/>
<circle cx="630.6" cy="539.5" r="5.9" fill="#c8c800" shape-rendering="geometricPrecision"/>
<circle cx="675.9" cy="539.5" r="5.9" fill="#c8c800" shape-rendering="geometricPrecision"/>
<circle cx="684" cy="539.5" r="5.9" fill="#c8c800" shape-rendering="geometricPrecision"/>
<circle cx="729.4" cy="539.5" r="5.9" fill="#c8c800" shape-rendering="geometricPrecision"/>
<circle cx="735.5" cy="539.5" r="5.9" fill="#c8c800" shape-rendering="geometricPrecision"/>
<circle cx="782.7" cy="539.5" r="5.9" fill="#c8c800" shape-rendering="geometricPrecision"/>
<circle cx="788.5" cy="539.5" r="5.9" fill="#c8c800" shape-rendering="geometricPrecision"/>
<circle cx="835.5" cy="539.5" r="5.9" fill="#c8c800" shape-rendering="geometricPrecision"/>
<circle cx="841.4" cy="539.5" r="5.9" fill="#c8c800" shape-rendering="geometricPrecision"/>
<circle cx="887.5" cy="539.5" r="5.9" fill="#c8c800" shape-rendering="geometricPrecision"/>
<circle cx="893.5" cy="539.5" r="5.9" fill="#c8c800" shape-rendering="geometricPrecision"/>
<circle cx="940.7" cy="539.5" r="5.9" fill="#c8c800" shape-rendering="geometricPrecision"/>
<circle cx="946.6" cy="539.5" r="5.9" fill="#c8c800" shape-rendering="geometricPrecision"/>
<circle cx="993.4" cy="539.5" r="5.9" fill="#c8c800" shape-rendering="geometricPrecision"/>
<circle cx="999.6" cy="539.5" r="5.9" fill="#c8c800" shape-rendering="geometricPrecision"/>
<circle cx="1045.4" cy="539.5" r="5.9" fill="#c8c800" shape-rendering="geometricPrecision"/>
<circle cx="1052.5" cy="539.5" r="5.9" fill="#c8c800" shape-rendering="geometricPrecision"/>
<circle cx="1098.4" cy="539.5" r="5.9" fill="#c8c800" shape-rendering="geometricPrecision"/>
<circle cx="1104.6" cy="539.5" r="5.9" fill="#c8c800" shape-rendering="geometricPrecision"/>
<circle cx="1151.8" cy="539.5" r="5.9" fill="#c8c800" shape-rendering="geometricPrecision"/>
<circle cx="1157.5" cy="539.5" r="5.9" fill="#c8c800" shape-rendering="geometricPrecision"/>
<circle cx="1203.6" cy="539.5" r="5.9" fill="#c8c800" shape-rendering="geometricPrecision"/>
<circle cx="1210.4" cy="539.5" r="5.9" fill="#c8c800" shape-rendering="geometricPrecision"/>
<circle cx="1256.5" cy="539.5" r="5.9" fill="#c8c800" shape-rendering="geometricPrecision"/>
<circle cx="1262.5" cy="539.5" r="5.9" fill="#c8c800" shape-rendering="geometricPrecision"/>
<circle cx="1309.5" cy="539.5" r="5.9" fill="#c8c800" shape-rendering="geometricPrecision"/>
<circle cx="1315.7" cy="539.5" r="5.9" fill="#c8c800" shape-rendering="geometricPrecision"/>
<circle cx="1362.5" cy="539.5" r="5.9" fill="#c8c800" shape-rendering="geometricPrecision"/>
<path d="M206.5 456.5L214.5 468.5L198.5 468.5Z" fill="none" stroke="#4169e1" stroke-width="1" shape-rendering="auto"/>
<path d="M290.5 456.5L298.5 468.5L282.5 468.5Z" fill="none" stroke="#4169e1" stroke-width="1" shape-rendering="auto"/>
<path d="M477.5 456.5L485.5 468.5L469.5 468.5Z" fill="none" stroke="#4169e1" stroke-width="1" shape-rendering="auto"/>
<path d="M700.5 456.5L708.5 468.5L692.5 468.5Z" fill="none" stroke="#4169e1" stroke-width="1" shape-rendering="auto"/>
<path d="M206.5 340.5L214.5 328.5L198.5 328.5Z" fill="none" stroke="#c080ff" stroke-width="1" shape-rendering="auto"/>
<path d="M206.5 359.5L214.5 347.5L198.5 347.5Z" fill="none" stroke="#306080" stroke-width="1" shape-rendering="auto"/>
<path d="M200.0 371.5h13M206.5 365.0v13" stroke="#008040" stroke-width="1" fill="none"/>
<path d="M206.5 402.5L214.5 414.5L198.5 414.5Z" fill="#ffc020" stroke="#ffc020" stroke-width="1" shape-rendering="auto"/>
<rect x="200.5" y="427.5" width="12" height="12" fill="none" stroke="#c000ff" stroke-width="1"/>
<text x="1062.73" y="75.90" textLength="211.53" lengthAdjust="spacing">"Ypingresult.txt" using 1:2</text>
<path d="M1288 72.5H1345" stroke="#ff0000" stroke-width="1"/>
<text x="1043.33" y="94.90" textLength="230.93" lengthAdjust="spacing">"YTimetcpping.txt" using 1:2</text>
<path d="M1288 91.5H1345" stroke="#00c000" stroke-width="1"/>
<text x="995.73" y="113.90" textLength="278.53" lengthAdjust="spacing">"YCustPingSiteTimes.txt" using 1:2</text>
<path d="M1288 110.5H1345" stroke="#0080ff" stroke-width="1"/>
<text x="1049.33" y="132.90" textLength="224.93" lengthAdjust="spacing">"Yofflineresult.txt" using 1:2</text>
<rect x="1310.5" y="123.5" width="12" height="12" fill="none" stroke="#c000ff" stroke-width="1"/>
<text x="1037.73" y="151.90" textLength="236.53" lengthAdjust="spacing">"Ytcpoff_record.txt" using 1:2</text>
<rect x="1310.0" y="142.0" width="13" height="13" fill="#00eeee"/>
<text x="1077.33" y="170.90" textLength="196.93" lengthAdjust="spacing">"Ycurltime.txt" using 1:2</text>
<circle cx="1316.5" cy="167.5" r="5.5" fill="none" stroke="#c04000" stroke-width="1.3" shape-rendering="geometricPrecision"/><path d="M1309.8 167.5h1.2M1322.0 167.5h1.2M1316.5 160.8v1.2M1316.5 173.0v1.2" stroke="#c04000" stroke-width="1.2" fill="none" shape-rendering="geometricPrecision"/>
<text x="1048.73" y="189.90" textLength="225.53" lengthAdjust="spacing">"Ycurldnstime.txt" using 1:2</text>
<circle cx="1316.5" cy="186.5" r="5.9" fill="#c8c800" shape-rendering="geometricPrecision"/>
<text x="1008.73" y="208.90" textLength="265.53" lengthAdjust="spacing">"YCustPingTimeout.txt" using 1:2</text>
<path d="M1316.5 197.5L1324.5 209.5L1308.5 209.5Z" fill="none" stroke="#4169e1" stroke-width="1" shape-rendering="auto"/>
<text x="1027.73" y="227.90" textLength="246.53" lengthAdjust="spacing">"Ypingtargetchange" using 1:2</text>
<path d="M1316.5 216.5L1324.5 228.5L1308.5 228.5Z" fill="#ffc020" stroke="#ffc020" stroke-width="1" shape-rendering="auto"/>
<text x="1040.33" y="246.90" textLength="233.93" lengthAdjust="spacing">"YHPpingresult.txt" using 1:2</text>
<path d="M1310.0 243.5h13M1316.5 237.0v13" stroke="#008040" stroke-width="1" fill="none"/>
<text x="1022.73" y="265.90" textLength="251.53" lengthAdjust="spacing">"YpingtargetISrouter" using 1:2</text>
<path d="M1316.5 270.5L1324.5 258.5L1308.5 258.5Z" fill="none" stroke="#c080ff" stroke-width="1" shape-rendering="auto"/>
<text x="1116.73" y="284.90" textLength="157.53" lengthAdjust="spacing">"Ynoipv6" using 1:2</text>
<path d="M1316.5 289.5L1324.5 277.5L1308.5 277.5Z" fill="none" stroke="#306080" stroke-width="1" shape-rendering="auto"/>
<path d="M101.5 57.5H1366.5V539.5H101.5Z" fill="none" stroke="#000" stroke-width="1"/>
<text x="77.01" y="542.90" textLength="9.94" lengthAdjust="spacing">0</text>
<text x="55.76" y="424.90" textLength="30.44" lengthAdjust="spacing">500</text>
<text x="46.49" y="307.90" textLength="39.71" lengthAdjust="spacing">1000</text>
<text x="46.49" y="189.90" textLength="39.71" lengthAdjust="spacing">1500</text>
<text x="45.72" y="72.90" textLength="40.53" lengthAdjust="spacing">2000</text>
<text x="76.70" y="562.10" textLength="46.70" lengthAdjust="spacing">00:00</text>
<text x="182.12" y="562.10" textLength="46.70" lengthAdjust="spacing">02:00</text>
<text x="287.53" y="562.10" textLength="46.70" lengthAdjust="spacing">04:00</text>
<text x="392.95" y="562.10" textLength="46.70" lengthAdjust="spacing">06:00</text>
<text x="498.37" y="562.10" textLength="46.70" lengthAdjust="spacing">08:00</text>
<text x="603.78" y="562.10" textLength="46.70" lengthAdjust="spacing">10:00</text>
<text x="709.20" y="562.10" textLength="46.70" lengthAdjust="spacing">12:00</text>
<text x="814.62" y="562.10" textLength="46.70" lengthAdjust="spacing">14:00</text>
<text x="920.03" y="562.10" textLength="46.70" lengthAdjust="spacing">16:00</text>
<text x="1025.45" y="562.10" textLength="46.70" lengthAdjust="spacing">18:00</text>
<text x="1130.87" y="562.10" textLength="46.70" lengthAdjust="spacing">20:00</text>
<text x="1236.28" y="562.10" textLength="46.70" lengthAdjust="spacing">22:00</text>
<text x="1341.70" y="562.10" textLength="46.70" lengthAdjust="spacing">00:00</text>
<text x="442.52" y="31.90" textLength="578.00" lengthAdjust="spacing">pi15 Jan 08  near/far ICMP/TCP ping and curl times [No msmt 1AM-2AM]</text>
<text x="326.55" y="589.90" textLength="813.07" lengthAdjust="spacing">&lt;-START at 2AM Yday, right to 12AM Tday-&gt;, then wrap left to 1AM Tday&lt;- [ignore connecting lines]</text>
<text transform="translate(16.5,320.4) rotate(-90)" textLength="42.9" lengthAdjust="spacing">msec</text>
</svg>
</body></html>
